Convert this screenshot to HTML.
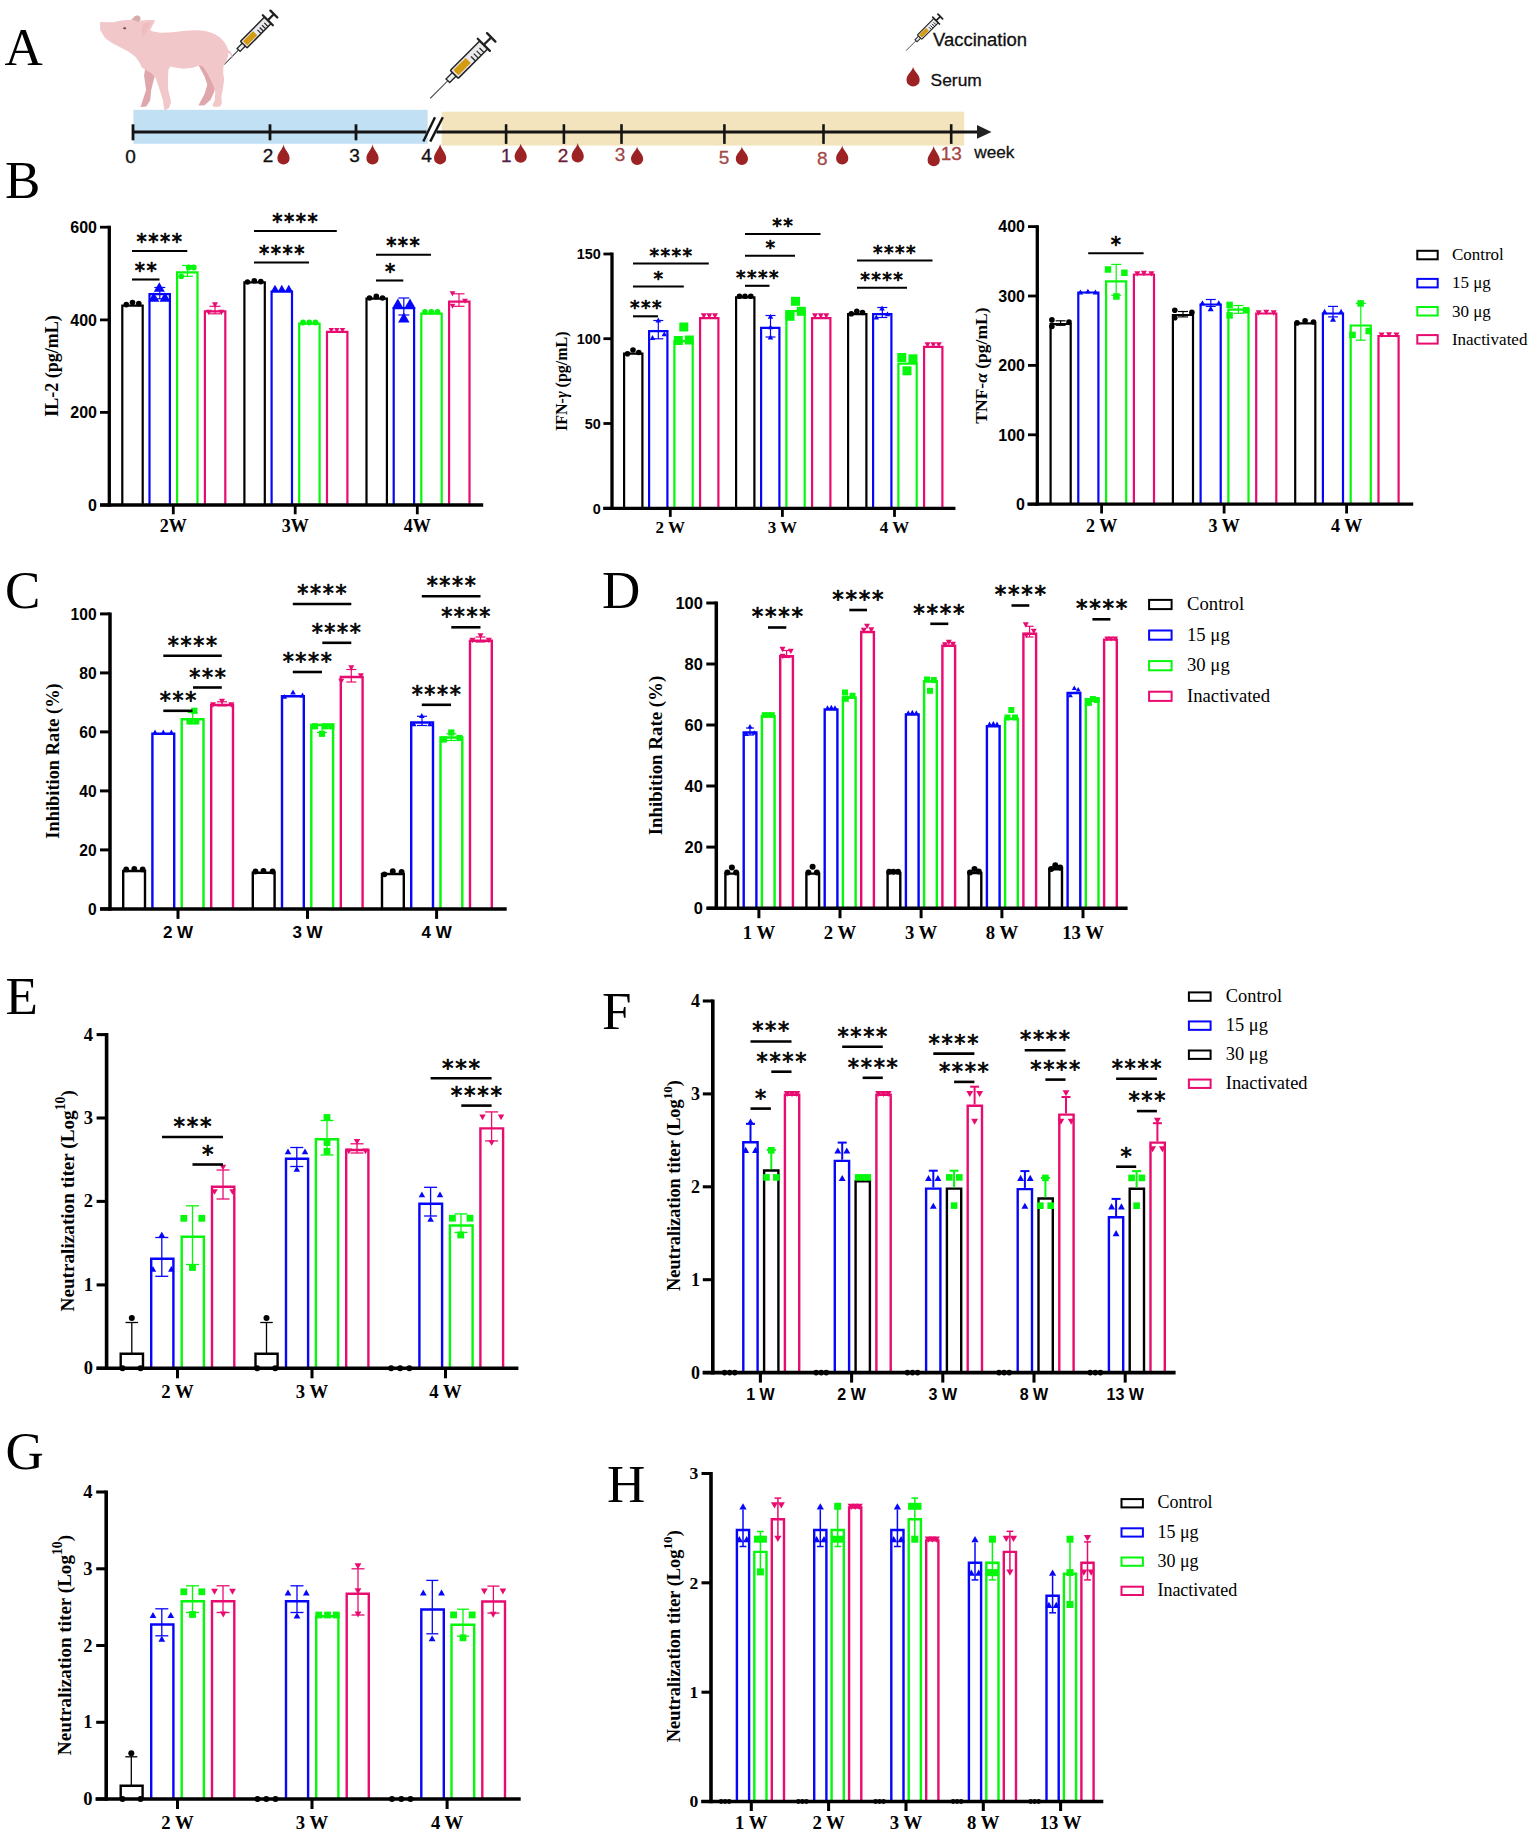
<!DOCTYPE html>
<html><head><meta charset="utf-8"><title>Figure</title>
<style>html,body{margin:0;padding:0;background:#fff}svg{display:block}</style></head>
<body><svg width="1535" height="1837" viewBox="0 0 1535 1837">
<rect width="1535" height="1837" fill="#fff"/>
<text x="4.5" y="65" font-family='"Liberation Serif", "Times New Roman", serif' font-size="53" font-weight="normal" text-anchor="start" fill="#000000" >A</text>
<text x="5" y="198" font-family='"Liberation Serif", "Times New Roman", serif' font-size="53" font-weight="normal" text-anchor="start" fill="#000000" >B</text>
<text x="5" y="608.2" font-family='"Liberation Serif", "Times New Roman", serif' font-size="53" font-weight="normal" text-anchor="start" fill="#000000" >C</text>
<text x="602" y="608.2" font-family='"Liberation Serif", "Times New Roman", serif' font-size="53" font-weight="normal" text-anchor="start" fill="#000000" >D</text>
<text x="5.5" y="1013.9" font-family='"Liberation Serif", "Times New Roman", serif' font-size="53" font-weight="normal" text-anchor="start" fill="#000000" >E</text>
<text x="602" y="1028.5" font-family='"Liberation Serif", "Times New Roman", serif' font-size="53" font-weight="normal" text-anchor="start" fill="#000000" >F</text>
<text x="5.5" y="1469" font-family='"Liberation Serif", "Times New Roman", serif' font-size="53" font-weight="normal" text-anchor="start" fill="#000000" >G</text>
<text x="607" y="1502.3" font-family='"Liberation Serif", "Times New Roman", serif' font-size="53" font-weight="normal" text-anchor="start" fill="#000000" >H</text>
<rect x="133.4" y="109.8" width="294.2" height="34" fill="#c2e0f4" stroke="none" stroke-width="0"/>
<rect x="441.7" y="111.7" width="522.5" height="33.9" fill="#f3e4bd" stroke="none" stroke-width="0"/>
<line x1="132" y1="132" x2="426.5" y2="132" stroke="#141414" stroke-width="2.8" stroke-linecap="butt"/>
<line x1="436.5" y1="132" x2="980" y2="132" stroke="#141414" stroke-width="2.8" stroke-linecap="butt"/>
<polygon points="977,125.1 991.5,131.9 977,138.7" fill="#222"/>
<line x1="423.3" y1="141.6" x2="435" y2="117.3" stroke="#141414" stroke-width="2.4" stroke-linecap="butt"/>
<line x1="430.2" y1="141.6" x2="442.8" y2="117.3" stroke="#141414" stroke-width="2.4" stroke-linecap="butt"/>
<line x1="133" y1="124.3" x2="133" y2="140.3" stroke="#141414" stroke-width="2.8" stroke-linecap="butt"/>
<line x1="270" y1="124.3" x2="270" y2="140.3" stroke="#141414" stroke-width="2.8" stroke-linecap="butt"/>
<line x1="356" y1="124.3" x2="356" y2="140.3" stroke="#141414" stroke-width="2.8" stroke-linecap="butt"/>
<line x1="506.1" y1="124.2" x2="506.1" y2="143.9" stroke="#141414" stroke-width="2.6" stroke-linecap="butt"/>
<line x1="563.9" y1="124.2" x2="563.9" y2="143.9" stroke="#141414" stroke-width="2.6" stroke-linecap="butt"/>
<line x1="621.5" y1="124.2" x2="621.5" y2="143.9" stroke="#141414" stroke-width="2.6" stroke-linecap="butt"/>
<line x1="724.4" y1="124.2" x2="724.4" y2="143.9" stroke="#141414" stroke-width="2.6" stroke-linecap="butt"/>
<line x1="823.5" y1="124.2" x2="823.5" y2="143.9" stroke="#141414" stroke-width="2.6" stroke-linecap="butt"/>
<line x1="951.2" y1="124.2" x2="951.2" y2="143.9" stroke="#141414" stroke-width="2.6" stroke-linecap="butt"/>
<text x="130.5" y="162.6" font-family='"Liberation Sans", Arial, sans-serif' font-size="19" font-weight="normal" text-anchor="middle" fill="#111" stroke="#111" stroke-width="0.35">0</text>
<text x="268" y="162.3" font-family='"Liberation Sans", Arial, sans-serif' font-size="19" font-weight="normal" text-anchor="middle" fill="#111" stroke="#111" stroke-width="0.35">2</text>
<text x="354.5" y="162.3" font-family='"Liberation Sans", Arial, sans-serif' font-size="19" font-weight="normal" text-anchor="middle" fill="#111" stroke="#111" stroke-width="0.35">3</text>
<text x="426.5" y="162.3" font-family='"Liberation Sans", Arial, sans-serif' font-size="19" font-weight="normal" text-anchor="middle" fill="#111" stroke="#111" stroke-width="0.35">4</text>
<text x="506.3" y="162" font-family='"Liberation Sans", Arial, sans-serif' font-size="19" font-weight="normal" text-anchor="middle" fill="#552048" stroke="#552048" stroke-width="0.3">1</text>
<text x="563" y="162" font-family='"Liberation Sans", Arial, sans-serif' font-size="19" font-weight="normal" text-anchor="middle" fill="#6e2234" stroke="#6e2234" stroke-width="0.3">2</text>
<text x="620" y="161.2" font-family='"Liberation Sans", Arial, sans-serif' font-size="19" font-weight="normal" text-anchor="middle" fill="#9a4848" stroke="#9a4848" stroke-width="0.3">3</text>
<text x="724" y="164.4" font-family='"Liberation Sans", Arial, sans-serif' font-size="19" font-weight="normal" text-anchor="middle" fill="#a24a48" stroke="#a24a48" stroke-width="0.3">5</text>
<text x="822.3" y="165" font-family='"Liberation Sans", Arial, sans-serif' font-size="19" font-weight="normal" text-anchor="middle" fill="#a24a48" stroke="#a24a48" stroke-width="0.3">8</text>
<text x="951.2" y="159.6" font-family='"Liberation Sans", Arial, sans-serif' font-size="19" font-weight="normal" text-anchor="middle" fill="#a64444" stroke="#a64444" stroke-width="0.3">13</text>
<text x="974.3" y="157.9" font-family='"Liberation Sans", Arial, sans-serif' font-size="17.2" font-weight="normal" text-anchor="start" fill="#111" stroke="#111" stroke-width="0.3">week</text>
<path d="M283.5 144.5 C284.3 149.5 289.6 152.91 289.6 158.4 A6.1 6.1 0 0 1 277.4 158.4 C277.4 152.91 282.7 149.5 283.5 144.5Z" fill="#9c2224"/>
<path d="M372.5 144.5 C373.3 149.5 378.6 152.91 378.6 158.4 A6.1 6.1 0 0 1 366.4 158.4 C366.4 152.91 371.7 149.5 372.5 144.5Z" fill="#9c2224"/>
<path d="M440.1 144 C440.9 149.1 446.2 152.81 446.2 158.3 A6.1 6.1 0 0 1 434 158.3 C434 152.81 439.3 149.1 440.1 144Z" fill="#9c2224"/>
<path d="M520.7 143.6 C521.5 148.4 526.8 151.21 526.8 156.7 A6.1 6.1 0 0 1 514.6 156.7 C514.6 151.21 519.9 148.4 520.7 143.6Z" fill="#9c2224"/>
<path d="M577.7 143 C578.5 147.88 583.8 150.91 583.8 156.4 A6.1 6.1 0 0 1 571.6 156.4 C571.6 150.91 576.9 147.88 577.7 143Z" fill="#9c2224"/>
<path d="M637.1 146.4 C637.9 151.07 643.2 153.51 643.2 159 A6.1 6.1 0 0 1 631 159 C631 153.51 636.3 151.07 637.1 146.4Z" fill="#9c2224"/>
<path d="M741.9 146.4 C742.7 151.05 748 153.41 748 158.9 A6.1 6.1 0 0 1 735.8 158.9 C735.8 153.41 741.1 151.05 741.9 146.4Z" fill="#9c2224"/>
<path d="M842.2 145.6 C843 150.35 848.3 153.01 848.3 158.5 A6.1 6.1 0 0 1 836.1 158.5 C836.1 153.01 841.4 150.35 842.2 145.6Z" fill="#9c2224"/>
<path d="M933.7 145.9 C934.5 151 939.8 154.71 939.8 160.2 A6.1 6.1 0 0 1 927.6 160.2 C927.6 154.71 932.9 151 933.7 145.9Z" fill="#9c2224"/>
<path d="M913.1 66.7 C913.9 71.65 919.7 73.96 919.7 79.9 A6.6 6.6 0 0 1 906.5 79.9 C906.5 73.96 912.3 71.65 913.1 66.7Z" fill="#9c2224"/>
<text x="933" y="45.9" font-family='"Liberation Sans", Arial, sans-serif' font-size="17.6" font-weight="normal" text-anchor="start" fill="#111" textLength="94" lengthAdjust="spacingAndGlyphs" stroke="#111" stroke-width="0.3">Vaccination</text>
<text x="930.6" y="85.5" font-family='"Liberation Sans", Arial, sans-serif' font-size="17.4" font-weight="normal" text-anchor="start" fill="#111" stroke="#111" stroke-width="0.3">Serum</text>
<g transform="translate(224.2,64.5) rotate(-45.4) scale(0.82)">
<line x1="0" y1="0" x2="26" y2="0" stroke="#333" stroke-width="1.22"/>
<rect x="25" y="-2.6" width="9.5" height="5.2" fill="#eee" stroke="#222" stroke-width="1.65"/>
<rect x="34" y="-5.6" width="41.5" height="11.2" rx="1" fill="#e9e9ee" stroke="#222" stroke-width="1.84"/>
<rect x="36.3" y="-3.6" width="17.5" height="7.2" rx="0.8" fill="#d49a12"/>
<line x1="58.5" y1="5.2" x2="58.5" y2="-0.8" stroke="#222" stroke-width="1.47"/>
<line x1="62.5" y1="5.2" x2="62.5" y2="-0.8" stroke="#222" stroke-width="1.47"/>
<line x1="66.5" y1="5.2" x2="66.5" y2="-0.8" stroke="#222" stroke-width="1.47"/>
<line x1="70.5" y1="5.2" x2="70.5" y2="-0.8" stroke="#222" stroke-width="1.47"/>
<line x1="75.8" y1="-8.6" x2="75.8" y2="8.6" stroke="#222" stroke-width="2.75" stroke-linecap="round"/>
<line x1="75.8" y1="0" x2="86" y2="0" stroke="#222" stroke-width="2.75"/>
<line x1="86.3" y1="-5.9" x2="86.3" y2="5.9" stroke="#222" stroke-width="2.94" stroke-linecap="round"/>
</g>
<g transform="translate(430.2,98.4) rotate(-45) scale(1)">
<line x1="0" y1="0" x2="26" y2="0" stroke="#333" stroke-width="1"/>
<rect x="25" y="-2.6" width="9.5" height="5.2" fill="#eee" stroke="#222" stroke-width="1.35"/>
<rect x="34" y="-5.6" width="41.5" height="11.2" rx="1" fill="#e9e9ee" stroke="#222" stroke-width="1.5"/>
<rect x="36.3" y="-3.6" width="17.5" height="7.2" rx="0.8" fill="#d49a12"/>
<line x1="58.5" y1="5.2" x2="58.5" y2="-0.8" stroke="#222" stroke-width="1.2"/>
<line x1="62.5" y1="5.2" x2="62.5" y2="-0.8" stroke="#222" stroke-width="1.2"/>
<line x1="66.5" y1="5.2" x2="66.5" y2="-0.8" stroke="#222" stroke-width="1.2"/>
<line x1="70.5" y1="5.2" x2="70.5" y2="-0.8" stroke="#222" stroke-width="1.2"/>
<line x1="75.8" y1="-8.6" x2="75.8" y2="8.6" stroke="#222" stroke-width="2.25" stroke-linecap="round"/>
<line x1="75.8" y1="0" x2="86" y2="0" stroke="#222" stroke-width="2.25"/>
<line x1="86.3" y1="-5.9" x2="86.3" y2="5.9" stroke="#222" stroke-width="2.4" stroke-linecap="round"/>
</g>
<g transform="translate(906.1,50.6) rotate(-45) scale(0.56)">
<line x1="0" y1="0" x2="26" y2="0" stroke="#333" stroke-width="1.43"/>
<rect x="25" y="-2.6" width="9.5" height="5.2" fill="#eee" stroke="#222" stroke-width="1.8"/>
<rect x="34" y="-5.6" width="41.5" height="11.2" rx="1" fill="#e9e9ee" stroke="#222" stroke-width="2"/>
<rect x="36.3" y="-3.6" width="17.5" height="7.2" rx="0.8" fill="#d49a12"/>
<line x1="58.5" y1="5.2" x2="58.5" y2="-0.8" stroke="#222" stroke-width="1.6"/>
<line x1="62.5" y1="5.2" x2="62.5" y2="-0.8" stroke="#222" stroke-width="1.6"/>
<line x1="66.5" y1="5.2" x2="66.5" y2="-0.8" stroke="#222" stroke-width="1.6"/>
<line x1="70.5" y1="5.2" x2="70.5" y2="-0.8" stroke="#222" stroke-width="1.6"/>
<line x1="75.8" y1="-8.6" x2="75.8" y2="8.6" stroke="#222" stroke-width="3" stroke-linecap="round"/>
<line x1="75.8" y1="0" x2="86" y2="0" stroke="#222" stroke-width="3"/>
<line x1="86.3" y1="-5.9" x2="86.3" y2="5.9" stroke="#222" stroke-width="3.2" stroke-linecap="round"/>
</g>
<polygon points="147.33,54.72 144.07,75.57 146.03,89.9 142.77,100.33 140.55,107.1 146.29,106.58 150.2,100.33 151.24,89.9 154.1,78.18 157.75,67.75" fill="#dfa6ac"/>
<polygon points="198.14,64.5 204.66,76.87 207.26,84.69 204.66,93.81 200.1,102.28 198.4,105.54 204.66,105.28 210.52,99.67 214.43,91.21 215.73,83.39 212.48,72.96 207.26,65.15" fill="#dfa6ac"/>
<polygon points="131.43,19.8 134.56,16.16 137.69,15.37 140.29,16.68 140.55,20.07 138.99,22.41 134.3,22.15" fill="#d8abac"/>
<polygon points="100.16,21.89 113.19,22.15 121.14,20.59 131.43,19.8 135.6,20.85 138.99,22.15 141.86,20.59 149.67,20.07 154.89,20.07 154.36,22.15 151.76,26.84 150.2,29.97 152.28,31.14 160.1,32.83 168.18,32.57 174.69,32.05 185.11,30.75 194.23,30.23 202.05,30.49 208.57,31.66 215.08,34.14 220.29,37.79 224.2,41.95 226.81,46.25 228.37,50.16 230.72,51.86 232.02,54.72 233.06,59.28 231.76,57.33 230.07,54.07 228.37,52.77 228.11,56.03 226.16,61.24 223.55,65.8 223.16,72.96 224.2,79.48 222.9,88.6 221.34,96.42 221.86,102.93 220.29,106.58 215.08,107.1 212.21,105.8 214.82,100.33 215.34,91.21 212.48,83.39 207.92,74.27 203.36,67.1 200.1,65.15 192.93,67.75 183.81,68.66 175.99,67.75 170.13,66.45 168.44,69.71 167.92,78.18 168.18,89.9 170.13,97.72 171.04,102.28 168.83,108.14 164.53,110.49 163.62,105.54 162.96,100.33 159.71,89.9 155.8,78.18 151.24,72.96 146.03,70.36 141.86,67.49 139.25,62.28 135.6,57.07 128.83,51.86 121.14,47.69 113.19,43.65 105.37,38.44 102.77,34.14 100.16,29.97" fill="#f2c7ca"/>
<polygon points="143.42,23.45 151.24,21.5 149.28,27.36 146.03,32.57 142.77,37.13 141.47,29.97" fill="#efbcc0"/>
<ellipse cx="124.66" cy="28.14" rx="1.6" ry="1" fill="#6a4a55"/>
<path d="M122.3 505V305.6H142.7V505" fill="#fff" stroke="#000000" stroke-width="2.2" stroke-linejoin="miter"/>
<path d="M149.5 505V294.1H169.9V505" fill="#fff" stroke="#0606fa" stroke-width="2.2" stroke-linejoin="miter"/>
<path d="M177.1 505V272.4H197.5V505" fill="#fff" stroke="#06f70c" stroke-width="2.2" stroke-linejoin="miter"/>
<path d="M204.9 505V311.4H225.3V505" fill="#fff" stroke="#e80c70" stroke-width="2.2" stroke-linejoin="miter"/>
<path d="M244.4 505V282.4H264.8V505" fill="#fff" stroke="#000000" stroke-width="2.2" stroke-linejoin="miter"/>
<path d="M271.6 505V291.6H292V505" fill="#fff" stroke="#0606fa" stroke-width="2.2" stroke-linejoin="miter"/>
<path d="M299.2 505V323.6H319.6V505" fill="#fff" stroke="#06f70c" stroke-width="2.2" stroke-linejoin="miter"/>
<path d="M327 505V331.9H347.4V505" fill="#fff" stroke="#e80c70" stroke-width="2.2" stroke-linejoin="miter"/>
<path d="M366.5 505V298.6H386.9V505" fill="#fff" stroke="#000000" stroke-width="2.2" stroke-linejoin="miter"/>
<path d="M393.7 505V308.1H414.1V505" fill="#fff" stroke="#0606fa" stroke-width="2.2" stroke-linejoin="miter"/>
<path d="M421.3 505V313.6H441.7V505" fill="#fff" stroke="#06f70c" stroke-width="2.2" stroke-linejoin="miter"/>
<path d="M449.1 505V301.6H469.5V505" fill="#fff" stroke="#e80c70" stroke-width="2.2" stroke-linejoin="miter"/>
<line x1="159.8" y1="287.5" x2="159.8" y2="298.8" stroke="#0606fa" stroke-width="1.2" stroke-linecap="butt"/>
<line x1="154.3" y1="287.5" x2="165.3" y2="287.5" stroke="#0606fa" stroke-width="1.2" stroke-linecap="butt"/>
<line x1="154.3" y1="298.8" x2="165.3" y2="298.8" stroke="#0606fa" stroke-width="1.2" stroke-linecap="butt"/>
<line x1="187.5" y1="265.5" x2="187.5" y2="276.3" stroke="#06f70c" stroke-width="1.2" stroke-linecap="butt"/>
<line x1="182" y1="265.5" x2="193" y2="265.5" stroke="#06f70c" stroke-width="1.2" stroke-linecap="butt"/>
<line x1="182" y1="276.3" x2="193" y2="276.3" stroke="#06f70c" stroke-width="1.2" stroke-linecap="butt"/>
<line x1="215" y1="306.3" x2="215" y2="313.8" stroke="#e80c70" stroke-width="1.2" stroke-linecap="butt"/>
<line x1="209.5" y1="306.3" x2="220.5" y2="306.3" stroke="#e80c70" stroke-width="1.2" stroke-linecap="butt"/>
<line x1="209.5" y1="313.8" x2="220.5" y2="313.8" stroke="#e80c70" stroke-width="1.2" stroke-linecap="butt"/>
<line x1="403.8" y1="298" x2="403.8" y2="315" stroke="#0606fa" stroke-width="1.2" stroke-linecap="butt"/>
<line x1="398.3" y1="298" x2="409.3" y2="298" stroke="#0606fa" stroke-width="1.2" stroke-linecap="butt"/>
<line x1="398.3" y1="315" x2="409.3" y2="315" stroke="#0606fa" stroke-width="1.2" stroke-linecap="butt"/>
<line x1="459" y1="293.8" x2="459" y2="306.3" stroke="#e80c70" stroke-width="1.2" stroke-linecap="butt"/>
<line x1="453.5" y1="293.8" x2="464.5" y2="293.8" stroke="#e80c70" stroke-width="1.2" stroke-linecap="butt"/>
<line x1="453.5" y1="306.3" x2="464.5" y2="306.3" stroke="#e80c70" stroke-width="1.2" stroke-linecap="butt"/>
<polygon points="153.8,291.84 164.8,291.84 159.3,282.16" fill="#0606fa"/>
<polygon points="148.3,301.84 159.3,301.84 153.8,292.16" fill="#0606fa"/>
<polygon points="159.5,301.84 170.5,301.84 165,292.16" fill="#0606fa"/>
<circle cx="181.3" cy="276.3" r="2.9" fill="#06f70c"/>
<circle cx="188.8" cy="267.5" r="2.9" fill="#06f70c"/>
<circle cx="193.8" cy="267.5" r="2.9" fill="#06f70c"/>
<polygon points="212,302.36 218,302.36 215,307.64" fill="#e80c70"/>
<polygon points="205.8,309.86 211.8,309.86 208.8,315.14" fill="#e80c70"/>
<polygon points="218.3,309.86 224.3,309.86 221.3,315.14" fill="#e80c70"/>
<polygon points="271,291.82 279,291.82 275,284.78" fill="#0606fa"/>
<polygon points="277.8,291.82 285.8,291.82 281.8,284.78" fill="#0606fa"/>
<polygon points="284.8,291.82 292.8,291.82 288.8,284.78" fill="#0606fa"/>
<circle cx="303" cy="322.5" r="2.9" fill="#06f70c"/>
<circle cx="309.3" cy="322.5" r="2.9" fill="#06f70c"/>
<circle cx="315.5" cy="322.5" r="2.9" fill="#06f70c"/>
<polygon points="328.55,327.88 334.05,327.88 331.3,332.72" fill="#e80c70"/>
<polygon points="334.05,327.88 339.55,327.88 336.8,332.72" fill="#e80c70"/>
<polygon points="339.75,327.88 345.25,327.88 342.5,332.72" fill="#e80c70"/>
<polygon points="392.05,308.56 403.55,308.56 397.8,298.44" fill="#0606fa"/>
<polygon points="404.25,308.56 415.75,308.56 410,298.44" fill="#0606fa"/>
<polygon points="398.05,322.56 409.55,322.56 403.8,312.44" fill="#0606fa"/>
<circle cx="425" cy="311.8" r="2.9" fill="#06f70c"/>
<circle cx="431.3" cy="311.8" r="2.9" fill="#06f70c"/>
<circle cx="437.5" cy="311.8" r="2.9" fill="#06f70c"/>
<polygon points="449.6,291.25 455.4,291.25 452.5,296.35" fill="#e80c70"/>
<polygon points="462.1,298.75 467.9,298.75 465,303.85" fill="#e80c70"/>
<polygon points="449.6,303.75 455.4,303.75 452.5,308.85" fill="#e80c70"/>
<line x1="132" y1="251" x2="187.3" y2="251" stroke="#000000" stroke-width="2.1" stroke-linecap="butt"/>
<text x="160.06" y="249.34" font-family='"DejaVu Sans", "Liberation Sans", sans-serif' font-size="20.45" letter-spacing="1.53" text-anchor="middle" fill="#000" stroke="#000" stroke-width="0.75" stroke-linejoin="round">****</text>
<line x1="132" y1="279.5" x2="159.5" y2="279.5" stroke="#000000" stroke-width="2.1" stroke-linecap="butt"/>
<text x="146.56" y="277.84" font-family='"DejaVu Sans", "Liberation Sans", sans-serif' font-size="20.45" letter-spacing="1.53" text-anchor="middle" fill="#000" stroke="#000" stroke-width="0.75" stroke-linejoin="round">**</text>
<line x1="254" y1="231" x2="336.8" y2="231" stroke="#000000" stroke-width="2.1" stroke-linecap="butt"/>
<text x="295.76" y="229.34" font-family='"DejaVu Sans", "Liberation Sans", sans-serif' font-size="20.45" letter-spacing="1.53" text-anchor="middle" fill="#000" stroke="#000" stroke-width="0.75" stroke-linejoin="round">****</text>
<line x1="254" y1="262.5" x2="309" y2="262.5" stroke="#000000" stroke-width="2.1" stroke-linecap="butt"/>
<text x="282.56" y="260.84" font-family='"DejaVu Sans", "Liberation Sans", sans-serif' font-size="20.45" letter-spacing="1.53" text-anchor="middle" fill="#000" stroke="#000" stroke-width="0.75" stroke-linejoin="round">****</text>
<line x1="376" y1="254.8" x2="431" y2="254.8" stroke="#000000" stroke-width="2.1" stroke-linecap="butt"/>
<text x="403.76" y="253.14" font-family='"DejaVu Sans", "Liberation Sans", sans-serif' font-size="20.45" letter-spacing="1.53" text-anchor="middle" fill="#000" stroke="#000" stroke-width="0.75" stroke-linejoin="round">***</text>
<line x1="376" y1="280.5" x2="403.3" y2="280.5" stroke="#000000" stroke-width="2.1" stroke-linecap="butt"/>
<text x="390.76" y="278.84" font-family='"DejaVu Sans", "Liberation Sans", sans-serif' font-size="20.45" letter-spacing="1.53" text-anchor="middle" fill="#000" stroke="#000" stroke-width="0.75" stroke-linejoin="round">*</text>
<line x1="109.3" y1="225.8" x2="109.3" y2="506.65" stroke="#000000" stroke-width="3.3" stroke-linecap="butt"/>
<line x1="100" y1="505" x2="483.2" y2="505" stroke="#000000" stroke-width="3.3" stroke-linecap="butt"/>
<line x1="100" y1="227.2" x2="109.3" y2="227.2" stroke="#000000" stroke-width="2.8" stroke-linecap="butt"/>
<text x="97" y="232.9" font-family='"Liberation Sans", Arial, sans-serif' font-size="16" font-weight="bold" text-anchor="end" fill="#000000" >600</text>
<line x1="100" y1="319.9" x2="109.3" y2="319.9" stroke="#000000" stroke-width="2.8" stroke-linecap="butt"/>
<text x="97" y="325.6" font-family='"Liberation Sans", Arial, sans-serif' font-size="16" font-weight="bold" text-anchor="end" fill="#000000" >400</text>
<line x1="100" y1="412.4" x2="109.3" y2="412.4" stroke="#000000" stroke-width="2.8" stroke-linecap="butt"/>
<text x="97" y="418.1" font-family='"Liberation Sans", Arial, sans-serif' font-size="16" font-weight="bold" text-anchor="end" fill="#000000" >200</text>
<line x1="100" y1="505" x2="109.3" y2="505" stroke="#000000" stroke-width="2.8" stroke-linecap="butt"/>
<text x="97" y="510.7" font-family='"Liberation Sans", Arial, sans-serif' font-size="16" font-weight="bold" text-anchor="end" fill="#000000" >0</text>
<line x1="173.3" y1="505" x2="173.3" y2="514.3" stroke="#000000" stroke-width="2.8" stroke-linecap="butt"/>
<text x="173.3" y="532.3" font-family='"Liberation Serif", "Times New Roman", serif' font-size="18" font-weight="bold" text-anchor="middle" fill="#000000" >2W</text>
<line x1="295.2" y1="505" x2="295.2" y2="514.3" stroke="#000000" stroke-width="2.8" stroke-linecap="butt"/>
<text x="295.2" y="532.3" font-family='"Liberation Serif", "Times New Roman", serif' font-size="18" font-weight="bold" text-anchor="middle" fill="#000000" >3W</text>
<line x1="417.3" y1="505" x2="417.3" y2="514.3" stroke="#000000" stroke-width="2.8" stroke-linecap="butt"/>
<text x="417.3" y="532.3" font-family='"Liberation Serif", "Times New Roman", serif' font-size="18" font-weight="bold" text-anchor="middle" fill="#000000" >4W</text>
<text transform="translate(58.3,366) rotate(-90)" font-family='"Liberation Serif", "Times New Roman", serif' font-size="18" font-weight="bold" text-anchor="middle" fill="#000">IL-2 (pg/mL)</text>
<circle cx="126.3" cy="304.6" r="2.8" fill="#000000"/>
<circle cx="132.5" cy="302.6" r="2.8" fill="#000000"/>
<circle cx="138.8" cy="303.6" r="2.8" fill="#000000"/>
<circle cx="247.5" cy="282" r="2.8" fill="#000000"/>
<circle cx="254.3" cy="280.8" r="2.8" fill="#000000"/>
<circle cx="260.8" cy="281.6" r="2.8" fill="#000000"/>
<circle cx="369.5" cy="298" r="2.8" fill="#000000"/>
<circle cx="376.3" cy="296.4" r="2.8" fill="#000000"/>
<circle cx="382.5" cy="298" r="2.8" fill="#000000"/>
<path d="M624.1 508.3V353.6H642.4V508.3" fill="#fff" stroke="#000000" stroke-width="2.2" stroke-linejoin="miter"/>
<path d="M649.1 508.3V331.1H667.4V508.3" fill="#fff" stroke="#0606fa" stroke-width="2.2" stroke-linejoin="miter"/>
<path d="M674.4 508.3V341.1H692.7V508.3" fill="#fff" stroke="#06f70c" stroke-width="2.2" stroke-linejoin="miter"/>
<path d="M700.1 508.3V318.1H718.4V508.3" fill="#fff" stroke="#e80c70" stroke-width="2.2" stroke-linejoin="miter"/>
<path d="M736.1 508.3V297.4H754.4V508.3" fill="#fff" stroke="#000000" stroke-width="2.2" stroke-linejoin="miter"/>
<path d="M761.1 508.3V327.9H779.4V508.3" fill="#fff" stroke="#0606fa" stroke-width="2.2" stroke-linejoin="miter"/>
<path d="M786.4 508.3V311.1H804.7V508.3" fill="#fff" stroke="#06f70c" stroke-width="2.2" stroke-linejoin="miter"/>
<path d="M812.1 508.3V318.1H830.4V508.3" fill="#fff" stroke="#e80c70" stroke-width="2.2" stroke-linejoin="miter"/>
<path d="M848.1 508.3V314.1H866.4V508.3" fill="#fff" stroke="#000000" stroke-width="2.2" stroke-linejoin="miter"/>
<path d="M873.1 508.3V314.1H891.4V508.3" fill="#fff" stroke="#0606fa" stroke-width="2.2" stroke-linejoin="miter"/>
<path d="M898.4 508.3V363.6H916.7V508.3" fill="#fff" stroke="#06f70c" stroke-width="2.2" stroke-linejoin="miter"/>
<path d="M924.1 508.3V346.9H942.4V508.3" fill="#fff" stroke="#e80c70" stroke-width="2.2" stroke-linejoin="miter"/>
<line x1="658.3" y1="320.5" x2="658.3" y2="338.8" stroke="#0606fa" stroke-width="1.2" stroke-linecap="butt"/>
<line x1="653.3" y1="320.5" x2="663.3" y2="320.5" stroke="#0606fa" stroke-width="1.2" stroke-linecap="butt"/>
<line x1="653.3" y1="338.8" x2="663.3" y2="338.8" stroke="#0606fa" stroke-width="1.2" stroke-linecap="butt"/>
<line x1="770.5" y1="315.5" x2="770.5" y2="337" stroke="#0606fa" stroke-width="1.2" stroke-linecap="butt"/>
<line x1="765.5" y1="315.5" x2="775.5" y2="315.5" stroke="#0606fa" stroke-width="1.2" stroke-linecap="butt"/>
<line x1="765.5" y1="337" x2="775.5" y2="337" stroke="#0606fa" stroke-width="1.2" stroke-linecap="butt"/>
<line x1="882.3" y1="307.5" x2="882.3" y2="317.5" stroke="#0606fa" stroke-width="1.2" stroke-linecap="butt"/>
<line x1="877.3" y1="307.5" x2="887.3" y2="307.5" stroke="#0606fa" stroke-width="1.2" stroke-linecap="butt"/>
<line x1="877.3" y1="317.5" x2="887.3" y2="317.5" stroke="#0606fa" stroke-width="1.2" stroke-linecap="butt"/>
<polygon points="655.55,322.42 661.05,322.42 658.3,317.58" fill="#0606fa"/>
<polygon points="649.75,339.92 655.25,339.92 652.5,335.08" fill="#0606fa"/>
<polygon points="661.55,336.22 667.05,336.22 664.3,331.38" fill="#0606fa"/>
<rect x="679.3" y="322.5" width="9" height="9" fill="#06f70c"/>
<rect x="673.8" y="336" width="9" height="9" fill="#06f70c"/>
<rect x="684.8" y="335.5" width="9" height="9" fill="#06f70c"/>
<polygon points="700.8,313.36 706.8,313.36 703.8,318.64" fill="#e80c70"/>
<polygon points="706.3,313.36 712.3,313.36 709.3,318.64" fill="#e80c70"/>
<polygon points="712,313.36 718,313.36 715,318.64" fill="#e80c70"/>
<polygon points="767.75,318.72 773.25,318.72 770.5,313.88" fill="#0606fa"/>
<polygon points="767.75,329.22 773.25,329.22 770.5,324.38" fill="#0606fa"/>
<polygon points="767.75,339.42 773.25,339.42 770.5,334.58" fill="#0606fa"/>
<rect x="791" y="296.8" width="9" height="9" fill="#06f70c"/>
<rect x="785.5" y="311.8" width="9" height="9" fill="#06f70c"/>
<rect x="796.8" y="306.8" width="9" height="9" fill="#06f70c"/>
<polygon points="812,313.36 818,313.36 815,318.64" fill="#e80c70"/>
<polygon points="817.8,313.36 823.8,313.36 820.8,318.64" fill="#e80c70"/>
<polygon points="823.3,313.36 829.3,313.36 826.3,318.64" fill="#e80c70"/>
<polygon points="879.25,310.42 884.75,310.42 882,305.58" fill="#0606fa"/>
<polygon points="873.55,319.42 879.05,319.42 876.3,314.58" fill="#0606fa"/>
<polygon points="884.75,316.22 890.25,316.22 887.5,311.38" fill="#0606fa"/>
<rect x="897.3" y="353" width="9" height="9" fill="#06f70c"/>
<rect x="908.5" y="354.3" width="9" height="9" fill="#06f70c"/>
<rect x="902.5" y="366.3" width="9" height="9" fill="#06f70c"/>
<polygon points="924.5,342.16 930.5,342.16 927.5,347.44" fill="#e80c70"/>
<polygon points="930.3,342.16 936.3,342.16 933.3,347.44" fill="#e80c70"/>
<polygon points="935.8,342.16 941.8,342.16 938.8,347.44" fill="#e80c70"/>
<line x1="633" y1="263.5" x2="708.8" y2="263.5" stroke="#000000" stroke-width="2.1" stroke-linecap="butt"/>
<text x="671.51" y="261.54" font-family='"DejaVu Sans", "Liberation Sans", sans-serif' font-size="19.14" letter-spacing="1.43" text-anchor="middle" fill="#000" stroke="#000" stroke-width="0.75" stroke-linejoin="round">****</text>
<line x1="633" y1="286.5" x2="683.8" y2="286.5" stroke="#000000" stroke-width="2.1" stroke-linecap="butt"/>
<text x="659.01" y="284.54" font-family='"DejaVu Sans", "Liberation Sans", sans-serif' font-size="19.14" letter-spacing="1.43" text-anchor="middle" fill="#000" stroke="#000" stroke-width="0.75" stroke-linejoin="round">*</text>
<line x1="633" y1="316.3" x2="658" y2="316.3" stroke="#000000" stroke-width="2.1" stroke-linecap="butt"/>
<text x="646.51" y="314.34" font-family='"DejaVu Sans", "Liberation Sans", sans-serif' font-size="19.14" letter-spacing="1.43" text-anchor="middle" fill="#000" stroke="#000" stroke-width="0.75" stroke-linejoin="round">***</text>
<line x1="745" y1="234" x2="820.5" y2="234" stroke="#000000" stroke-width="2.1" stroke-linecap="butt"/>
<text x="783.22" y="232.04" font-family='"DejaVu Sans", "Liberation Sans", sans-serif' font-size="19.14" letter-spacing="1.43" text-anchor="middle" fill="#000" stroke="#000" stroke-width="0.75" stroke-linejoin="round">**</text>
<line x1="745" y1="255.8" x2="795" y2="255.8" stroke="#000000" stroke-width="2.1" stroke-linecap="butt"/>
<text x="771.01" y="253.84" font-family='"DejaVu Sans", "Liberation Sans", sans-serif' font-size="19.14" letter-spacing="1.43" text-anchor="middle" fill="#000" stroke="#000" stroke-width="0.75" stroke-linejoin="round">*</text>
<line x1="745" y1="285.8" x2="769.5" y2="285.8" stroke="#000000" stroke-width="2.1" stroke-linecap="butt"/>
<text x="758.01" y="283.84" font-family='"DejaVu Sans", "Liberation Sans", sans-serif' font-size="19.14" letter-spacing="1.43" text-anchor="middle" fill="#000" stroke="#000" stroke-width="0.75" stroke-linejoin="round">****</text>
<line x1="857" y1="260.5" x2="932.5" y2="260.5" stroke="#000000" stroke-width="2.1" stroke-linecap="butt"/>
<text x="895.01" y="258.54" font-family='"DejaVu Sans", "Liberation Sans", sans-serif' font-size="19.14" letter-spacing="1.43" text-anchor="middle" fill="#000" stroke="#000" stroke-width="0.75" stroke-linejoin="round">****</text>
<line x1="857" y1="287.8" x2="907" y2="287.8" stroke="#000000" stroke-width="2.1" stroke-linecap="butt"/>
<text x="882.22" y="285.84" font-family='"DejaVu Sans", "Liberation Sans", sans-serif' font-size="19.14" letter-spacing="1.43" text-anchor="middle" fill="#000" stroke="#000" stroke-width="0.75" stroke-linejoin="round">****</text>
<line x1="612" y1="252.6" x2="612" y2="509.95" stroke="#000000" stroke-width="3.3" stroke-linecap="butt"/>
<line x1="603.3" y1="508.3" x2="955.4" y2="508.3" stroke="#000000" stroke-width="3.3" stroke-linecap="butt"/>
<line x1="603.4" y1="254" x2="612" y2="254" stroke="#000000" stroke-width="2.8" stroke-linecap="butt"/>
<text x="600.8" y="259.2" font-family='"Liberation Sans", Arial, sans-serif' font-size="14.4" font-weight="bold" text-anchor="end" fill="#000000" >150</text>
<line x1="603.4" y1="338.7" x2="612" y2="338.7" stroke="#000000" stroke-width="2.8" stroke-linecap="butt"/>
<text x="600.8" y="343.9" font-family='"Liberation Sans", Arial, sans-serif' font-size="14.4" font-weight="bold" text-anchor="end" fill="#000000" >100</text>
<line x1="603.4" y1="423.5" x2="612" y2="423.5" stroke="#000000" stroke-width="2.8" stroke-linecap="butt"/>
<text x="600.8" y="428.7" font-family='"Liberation Sans", Arial, sans-serif' font-size="14.4" font-weight="bold" text-anchor="end" fill="#000000" >50</text>
<line x1="603.4" y1="508.3" x2="612" y2="508.3" stroke="#000000" stroke-width="2.8" stroke-linecap="butt"/>
<text x="600.8" y="513.5" font-family='"Liberation Sans", Arial, sans-serif' font-size="14.4" font-weight="bold" text-anchor="end" fill="#000000" >0</text>
<line x1="670.3" y1="508.3" x2="670.3" y2="516.9" stroke="#000000" stroke-width="2.8" stroke-linecap="butt"/>
<text x="670.3" y="533.2" font-family='"Liberation Serif", "Times New Roman", serif' font-size="17" font-weight="bold" text-anchor="middle" fill="#000000" >2 W</text>
<line x1="782.4" y1="508.3" x2="782.4" y2="516.9" stroke="#000000" stroke-width="2.8" stroke-linecap="butt"/>
<text x="782.4" y="533.2" font-family='"Liberation Serif", "Times New Roman", serif' font-size="17" font-weight="bold" text-anchor="middle" fill="#000000" >3 W</text>
<line x1="894.5" y1="508.3" x2="894.5" y2="516.9" stroke="#000000" stroke-width="2.8" stroke-linecap="butt"/>
<text x="894.5" y="533.2" font-family='"Liberation Serif", "Times New Roman", serif' font-size="17" font-weight="bold" text-anchor="middle" fill="#000000" >4 W</text>
<text transform="translate(566.5,381.2) rotate(-90)" font-family='"Liberation Serif", "Times New Roman", serif' font-size="16" font-weight="bold" text-anchor="middle" fill="#000">IFN-<tspan font-style="italic">γ</tspan> (pg/mL)</text>
<circle cx="627.5" cy="353.8" r="2.8" fill="#000000"/>
<circle cx="633" cy="350" r="2.8" fill="#000000"/>
<circle cx="638.8" cy="352.5" r="2.8" fill="#000000"/>
<circle cx="739.5" cy="296.3" r="2.8" fill="#000000"/>
<circle cx="745" cy="296.3" r="2.8" fill="#000000"/>
<circle cx="750.8" cy="296.3" r="2.8" fill="#000000"/>
<circle cx="851.3" cy="313.8" r="2.8" fill="#000000"/>
<circle cx="856.8" cy="311.3" r="2.8" fill="#000000"/>
<circle cx="862.5" cy="312.5" r="2.8" fill="#000000"/>
<path d="M1050.6 504.2V324H1070.7V504.2" fill="#fff" stroke="#000000" stroke-width="2.2" stroke-linejoin="miter"/>
<path d="M1078.3 504.2V292.5H1098.4V504.2" fill="#fff" stroke="#0606fa" stroke-width="2.2" stroke-linejoin="miter"/>
<path d="M1106.1 504.2V281.4H1126.2V504.2" fill="#fff" stroke="#06f70c" stroke-width="2.2" stroke-linejoin="miter"/>
<path d="M1133.9 504.2V274.5H1154V504.2" fill="#fff" stroke="#e80c70" stroke-width="2.2" stroke-linejoin="miter"/>
<path d="M1172.9 504.2V315H1193V504.2" fill="#fff" stroke="#000000" stroke-width="2.2" stroke-linejoin="miter"/>
<path d="M1200.6 504.2V304.5H1220.7V504.2" fill="#fff" stroke="#0606fa" stroke-width="2.2" stroke-linejoin="miter"/>
<path d="M1228.4 504.2V309.6H1248.5V504.2" fill="#fff" stroke="#06f70c" stroke-width="2.2" stroke-linejoin="miter"/>
<path d="M1256.2 504.2V313.5H1276.3V504.2" fill="#fff" stroke="#e80c70" stroke-width="2.2" stroke-linejoin="miter"/>
<path d="M1295.2 504.2V323.4H1315.3V504.2" fill="#fff" stroke="#000000" stroke-width="2.2" stroke-linejoin="miter"/>
<path d="M1322.9 504.2V313.5H1343V504.2" fill="#fff" stroke="#0606fa" stroke-width="2.2" stroke-linejoin="miter"/>
<path d="M1350.7 504.2V325.5H1370.8V504.2" fill="#fff" stroke="#06f70c" stroke-width="2.2" stroke-linejoin="miter"/>
<path d="M1378.5 504.2V336H1398.6V504.2" fill="#fff" stroke="#e80c70" stroke-width="2.2" stroke-linejoin="miter"/>
<line x1="1060.6" y1="320.8" x2="1060.6" y2="325.3" stroke="#000000" stroke-width="1.2" stroke-linecap="butt"/>
<line x1="1055.6" y1="320.8" x2="1065.6" y2="320.8" stroke="#000000" stroke-width="1.2" stroke-linecap="butt"/>
<line x1="1055.6" y1="325.3" x2="1065.6" y2="325.3" stroke="#000000" stroke-width="1.2" stroke-linecap="butt"/>
<line x1="1116.2" y1="264.4" x2="1116.2" y2="295.3" stroke="#06f70c" stroke-width="1.2" stroke-linecap="butt"/>
<line x1="1111.2" y1="264.4" x2="1121.2" y2="264.4" stroke="#06f70c" stroke-width="1.2" stroke-linecap="butt"/>
<line x1="1111.2" y1="295.3" x2="1121.2" y2="295.3" stroke="#06f70c" stroke-width="1.2" stroke-linecap="butt"/>
<line x1="1183" y1="311.5" x2="1183" y2="316.9" stroke="#000000" stroke-width="1.2" stroke-linecap="butt"/>
<line x1="1178" y1="311.5" x2="1188" y2="311.5" stroke="#000000" stroke-width="1.2" stroke-linecap="butt"/>
<line x1="1178" y1="316.9" x2="1188" y2="316.9" stroke="#000000" stroke-width="1.2" stroke-linecap="butt"/>
<line x1="1210.8" y1="299.5" x2="1210.8" y2="306.4" stroke="#0606fa" stroke-width="1.2" stroke-linecap="butt"/>
<line x1="1205.8" y1="299.5" x2="1215.8" y2="299.5" stroke="#0606fa" stroke-width="1.2" stroke-linecap="butt"/>
<line x1="1205.8" y1="306.4" x2="1215.8" y2="306.4" stroke="#0606fa" stroke-width="1.2" stroke-linecap="butt"/>
<line x1="1238.4" y1="305.5" x2="1238.4" y2="313.3" stroke="#06f70c" stroke-width="1.2" stroke-linecap="butt"/>
<line x1="1233.4" y1="305.5" x2="1243.4" y2="305.5" stroke="#06f70c" stroke-width="1.2" stroke-linecap="butt"/>
<line x1="1233.4" y1="313.3" x2="1243.4" y2="313.3" stroke="#06f70c" stroke-width="1.2" stroke-linecap="butt"/>
<line x1="1333" y1="306.4" x2="1333" y2="316.9" stroke="#0606fa" stroke-width="1.2" stroke-linecap="butt"/>
<line x1="1328" y1="306.4" x2="1338" y2="306.4" stroke="#0606fa" stroke-width="1.2" stroke-linecap="butt"/>
<line x1="1328" y1="316.9" x2="1338" y2="316.9" stroke="#0606fa" stroke-width="1.2" stroke-linecap="butt"/>
<line x1="1360.8" y1="303.4" x2="1360.8" y2="340.2" stroke="#06f70c" stroke-width="1.2" stroke-linecap="butt"/>
<line x1="1355.8" y1="303.4" x2="1365.8" y2="303.4" stroke="#06f70c" stroke-width="1.2" stroke-linecap="butt"/>
<line x1="1355.8" y1="340.2" x2="1365.8" y2="340.2" stroke="#06f70c" stroke-width="1.2" stroke-linecap="butt"/>
<polygon points="1077.65,294.42 1083.15,294.42 1080.4,289.58" fill="#0606fa"/>
<polygon points="1085.15,293.62 1090.65,293.62 1087.9,288.78" fill="#0606fa"/>
<polygon points="1092.65,294.42 1098.15,294.42 1095.4,289.58" fill="#0606fa"/>
<rect x="1104.75" y="266.25" width="6.5" height="6.5" fill="#06f70c"/>
<rect x="1121.15" y="269.55" width="6.5" height="6.5" fill="#06f70c"/>
<rect x="1113.15" y="293.25" width="6.5" height="6.5" fill="#06f70c"/>
<polygon points="1134.3,271.16 1140.3,271.16 1137.3,276.44" fill="#e80c70"/>
<polygon points="1140.9,270.76 1146.9,270.76 1143.9,276.04" fill="#e80c70"/>
<polygon points="1148.4,271.16 1154.4,271.16 1151.4,276.44" fill="#e80c70"/>
<polygon points="1199.4,305.44 1205.4,305.44 1202.4,300.16" fill="#0606fa"/>
<polygon points="1215.8,305.44 1221.8,305.44 1218.8,300.16" fill="#0606fa"/>
<polygon points="1207.7,311.14 1213.7,311.14 1210.7,305.86" fill="#0606fa"/>
<rect x="1226.35" y="301.65" width="6.5" height="6.5" fill="#06f70c"/>
<rect x="1242.85" y="307.05" width="6.5" height="6.5" fill="#06f70c"/>
<rect x="1226.35" y="312.15" width="6.5" height="6.5" fill="#06f70c"/>
<polygon points="1255.7,310.36 1261.7,310.36 1258.7,315.64" fill="#e80c70"/>
<polygon points="1263.2,309.76 1269.2,309.76 1266.2,315.04" fill="#e80c70"/>
<polygon points="1270.7,310.36 1276.7,310.36 1273.7,315.64" fill="#e80c70"/>
<polygon points="1321.6,314.14 1327.6,314.14 1324.6,308.86" fill="#0606fa"/>
<polygon points="1338.1,314.14 1344.1,314.14 1341.1,308.86" fill="#0606fa"/>
<polygon points="1330,321.64 1336,321.64 1333,316.36" fill="#0606fa"/>
<rect x="1357.35" y="300.15" width="6.5" height="6.5" fill="#06f70c"/>
<rect x="1349.25" y="331.65" width="6.5" height="6.5" fill="#06f70c"/>
<rect x="1365.45" y="327.75" width="6.5" height="6.5" fill="#06f70c"/>
<polygon points="1378.6,332.56 1384.6,332.56 1381.6,337.84" fill="#e80c70"/>
<polygon points="1386,332.16 1392,332.16 1389,337.44" fill="#e80c70"/>
<polygon points="1393.5,332.56 1399.5,332.56 1396.5,337.84" fill="#e80c70"/>
<line x1="1088.2" y1="253.3" x2="1143.6" y2="253.3" stroke="#000000" stroke-width="2.1" stroke-linecap="butt"/>
<text x="1116.56" y="251.64" font-family='"DejaVu Sans", "Liberation Sans", sans-serif' font-size="20.45" letter-spacing="1.53" text-anchor="middle" fill="#000" stroke="#000" stroke-width="0.75" stroke-linejoin="round">*</text>
<rect x="1417.3" y="250.8" width="20.4" height="8.5" fill="#fff" stroke="#000000" stroke-width="2"/>
<text x="1451.9" y="260.3" font-family='"Liberation Serif", "Times New Roman", serif' font-size="17" font-weight="normal" text-anchor="start" fill="#000000" >Control</text>
<rect x="1417.3" y="278.9" width="20.4" height="8.5" fill="#fff" stroke="#0606fa" stroke-width="2"/>
<text x="1451.9" y="288.4" font-family='"Liberation Serif", "Times New Roman", serif' font-size="17" font-weight="normal" text-anchor="start" fill="#000000" >15 μg</text>
<rect x="1417.3" y="307" width="20.4" height="8.5" fill="#fff" stroke="#06f70c" stroke-width="2"/>
<text x="1451.9" y="316.5" font-family='"Liberation Serif", "Times New Roman", serif' font-size="17" font-weight="normal" text-anchor="start" fill="#000000" >30 μg</text>
<rect x="1417.3" y="335.1" width="20.4" height="8.5" fill="#fff" stroke="#e80c70" stroke-width="2"/>
<text x="1451.9" y="344.6" font-family='"Liberation Serif", "Times New Roman", serif' font-size="17" font-weight="normal" text-anchor="start" fill="#000000" >Inactivated</text>
<line x1="1037.3" y1="225.2" x2="1037.3" y2="505.85" stroke="#000000" stroke-width="3.3" stroke-linecap="butt"/>
<line x1="1027.4" y1="504.2" x2="1413.2" y2="504.2" stroke="#000000" stroke-width="3.3" stroke-linecap="butt"/>
<line x1="1028" y1="226.6" x2="1037.3" y2="226.6" stroke="#000000" stroke-width="2.8" stroke-linecap="butt"/>
<text x="1025" y="232.3" font-family='"Liberation Sans", Arial, sans-serif' font-size="16" font-weight="bold" text-anchor="end" fill="#000000" >400</text>
<line x1="1028" y1="296" x2="1037.3" y2="296" stroke="#000000" stroke-width="2.8" stroke-linecap="butt"/>
<text x="1025" y="301.7" font-family='"Liberation Sans", Arial, sans-serif' font-size="16" font-weight="bold" text-anchor="end" fill="#000000" >300</text>
<line x1="1028" y1="365.4" x2="1037.3" y2="365.4" stroke="#000000" stroke-width="2.8" stroke-linecap="butt"/>
<text x="1025" y="371.1" font-family='"Liberation Sans", Arial, sans-serif' font-size="16" font-weight="bold" text-anchor="end" fill="#000000" >200</text>
<line x1="1028" y1="434.8" x2="1037.3" y2="434.8" stroke="#000000" stroke-width="2.8" stroke-linecap="butt"/>
<text x="1025" y="440.5" font-family='"Liberation Sans", Arial, sans-serif' font-size="16" font-weight="bold" text-anchor="end" fill="#000000" >100</text>
<line x1="1028" y1="504.2" x2="1037.3" y2="504.2" stroke="#000000" stroke-width="2.8" stroke-linecap="butt"/>
<text x="1025" y="509.9" font-family='"Liberation Sans", Arial, sans-serif' font-size="16" font-weight="bold" text-anchor="end" fill="#000000" >0</text>
<line x1="1101.6" y1="504.2" x2="1101.6" y2="513.5" stroke="#000000" stroke-width="2.8" stroke-linecap="butt"/>
<text x="1101.6" y="532.4" font-family='"Liberation Serif", "Times New Roman", serif' font-size="18" font-weight="bold" text-anchor="middle" fill="#000000" >2 W</text>
<line x1="1224.1" y1="504.2" x2="1224.1" y2="513.5" stroke="#000000" stroke-width="2.8" stroke-linecap="butt"/>
<text x="1224.1" y="532.4" font-family='"Liberation Serif", "Times New Roman", serif' font-size="18" font-weight="bold" text-anchor="middle" fill="#000000" >3 W</text>
<line x1="1346.6" y1="504.2" x2="1346.6" y2="513.5" stroke="#000000" stroke-width="2.8" stroke-linecap="butt"/>
<text x="1346.6" y="532.4" font-family='"Liberation Serif", "Times New Roman", serif' font-size="18" font-weight="bold" text-anchor="middle" fill="#000000" >4 W</text>
<text transform="translate(986.6,365.6) rotate(-90)" font-family='"Liberation Serif", "Times New Roman", serif' font-size="17.5" font-weight="bold" text-anchor="middle" fill="#000">TNF-<tspan font-style="italic">α</tspan> (pg/mL)</text>
<circle cx="1051.9" cy="319.9" r="2.8" fill="#000000"/>
<circle cx="1069" cy="322" r="2.8" fill="#000000"/>
<circle cx="1051.9" cy="326.5" r="2.8" fill="#000000"/>
<circle cx="1174.8" cy="310.3" r="2.8" fill="#000000"/>
<circle cx="1191.9" cy="312.4" r="2.8" fill="#000000"/>
<circle cx="1174.8" cy="317.8" r="2.8" fill="#000000"/>
<circle cx="1297" cy="322.9" r="2.8" fill="#000000"/>
<circle cx="1305.1" cy="320.8" r="2.8" fill="#000000"/>
<circle cx="1313.5" cy="322" r="2.8" fill="#000000"/>
<path d="M123.2 908.9V871H145V908.9" fill="#fff" stroke="#000000" stroke-width="2.4" stroke-linejoin="miter"/>
<path d="M152.4 908.9V733.7H174.2V908.9" fill="#fff" stroke="#0606fa" stroke-width="2.4" stroke-linejoin="miter"/>
<path d="M181.7 908.9V719.2H203.5V908.9" fill="#fff" stroke="#06f70c" stroke-width="2.4" stroke-linejoin="miter"/>
<path d="M211.2 908.9V705H233V908.9" fill="#fff" stroke="#e80c70" stroke-width="2.4" stroke-linejoin="miter"/>
<path d="M252.8 908.9V872.8H274.6V908.9" fill="#fff" stroke="#000000" stroke-width="2.4" stroke-linejoin="miter"/>
<path d="M282 908.9V696.2H303.8V908.9" fill="#fff" stroke="#0606fa" stroke-width="2.4" stroke-linejoin="miter"/>
<path d="M311.3 908.9V725H333.1V908.9" fill="#fff" stroke="#06f70c" stroke-width="2.4" stroke-linejoin="miter"/>
<path d="M340.8 908.9V677H362.6V908.9" fill="#fff" stroke="#e80c70" stroke-width="2.4" stroke-linejoin="miter"/>
<path d="M382 908.9V874H403.8V908.9" fill="#fff" stroke="#000000" stroke-width="2.4" stroke-linejoin="miter"/>
<path d="M411.2 908.9V722.5H433V908.9" fill="#fff" stroke="#0606fa" stroke-width="2.4" stroke-linejoin="miter"/>
<path d="M440.5 908.9V737.5H462.3V908.9" fill="#fff" stroke="#06f70c" stroke-width="2.4" stroke-linejoin="miter"/>
<path d="M470 908.9V640.7H491.8V908.9" fill="#fff" stroke="#e80c70" stroke-width="2.4" stroke-linejoin="miter"/>
<line x1="192.7" y1="712.5" x2="192.7" y2="723.8" stroke="#06f70c" stroke-width="1.2" stroke-linecap="butt"/>
<line x1="187.7" y1="712.5" x2="197.7" y2="712.5" stroke="#06f70c" stroke-width="1.2" stroke-linecap="butt"/>
<line x1="187.7" y1="723.8" x2="197.7" y2="723.8" stroke="#06f70c" stroke-width="1.2" stroke-linecap="butt"/>
<line x1="222" y1="701.8" x2="222" y2="705.8" stroke="#e80c70" stroke-width="1.2" stroke-linecap="butt"/>
<line x1="217" y1="701.8" x2="227" y2="701.8" stroke="#e80c70" stroke-width="1.2" stroke-linecap="butt"/>
<line x1="217" y1="705.8" x2="227" y2="705.8" stroke="#e80c70" stroke-width="1.2" stroke-linecap="butt"/>
<line x1="322" y1="725" x2="322" y2="732.5" stroke="#06f70c" stroke-width="1.2" stroke-linecap="butt"/>
<line x1="317" y1="725" x2="327" y2="725" stroke="#06f70c" stroke-width="1.2" stroke-linecap="butt"/>
<line x1="317" y1="732.5" x2="327" y2="732.5" stroke="#06f70c" stroke-width="1.2" stroke-linecap="butt"/>
<line x1="351.3" y1="669.5" x2="351.3" y2="682" stroke="#e80c70" stroke-width="1.2" stroke-linecap="butt"/>
<line x1="346.3" y1="669.5" x2="356.3" y2="669.5" stroke="#e80c70" stroke-width="1.2" stroke-linecap="butt"/>
<line x1="346.3" y1="682" x2="356.3" y2="682" stroke="#e80c70" stroke-width="1.2" stroke-linecap="butt"/>
<line x1="422" y1="716.3" x2="422" y2="725.5" stroke="#0606fa" stroke-width="1.2" stroke-linecap="butt"/>
<line x1="417" y1="716.3" x2="427" y2="716.3" stroke="#0606fa" stroke-width="1.2" stroke-linecap="butt"/>
<line x1="417" y1="725.5" x2="427" y2="725.5" stroke="#0606fa" stroke-width="1.2" stroke-linecap="butt"/>
<line x1="451.3" y1="733.8" x2="451.3" y2="740.5" stroke="#06f70c" stroke-width="1.2" stroke-linecap="butt"/>
<line x1="446.3" y1="733.8" x2="456.3" y2="733.8" stroke="#06f70c" stroke-width="1.2" stroke-linecap="butt"/>
<line x1="446.3" y1="740.5" x2="456.3" y2="740.5" stroke="#06f70c" stroke-width="1.2" stroke-linecap="butt"/>
<line x1="480.5" y1="637" x2="480.5" y2="642" stroke="#e80c70" stroke-width="1.2" stroke-linecap="butt"/>
<line x1="475.5" y1="637" x2="485.5" y2="637" stroke="#e80c70" stroke-width="1.2" stroke-linecap="butt"/>
<line x1="475.5" y1="642" x2="485.5" y2="642" stroke="#e80c70" stroke-width="1.2" stroke-linecap="butt"/>
<polygon points="152.25,734.42 157.75,734.42 155,729.58" fill="#0606fa"/>
<polygon points="160.55,734.42 166.05,734.42 163.3,729.58" fill="#0606fa"/>
<polygon points="168.55,734.42 174.05,734.42 171.3,729.58" fill="#0606fa"/>
<rect x="191.2" y="707.7" width="6.2" height="6.2" fill="#06f70c"/>
<rect x="186.4" y="718.2" width="6.2" height="6.2" fill="#06f70c"/>
<rect x="193.2" y="718.2" width="6.2" height="6.2" fill="#06f70c"/>
<polygon points="219,698.66 225,698.66 222,703.94" fill="#e80c70"/>
<polygon points="210,702.36 216,702.36 213,707.64" fill="#e80c70"/>
<polygon points="228.3,702.36 234.3,702.36 231.3,707.64" fill="#e80c70"/>
<polygon points="290.25,694.42 295.75,694.42 293,689.58" fill="#0606fa"/>
<polygon points="281.55,698.72 287.05,698.72 284.3,693.88" fill="#0606fa"/>
<polygon points="299.75,697.42 305.25,697.42 302.5,692.58" fill="#0606fa"/>
<rect x="311.9" y="723.2" width="6.2" height="6.2" fill="#06f70c"/>
<rect x="321.9" y="723.2" width="6.2" height="6.2" fill="#06f70c"/>
<rect x="328.2" y="723.2" width="6.2" height="6.2" fill="#06f70c"/>
<rect x="318.9" y="730.7" width="6.2" height="6.2" fill="#06f70c"/>
<polygon points="348.3,665.36 354.3,665.36 351.3,670.64" fill="#e80c70"/>
<polygon points="338.3,678.66 344.3,678.66 341.3,683.94" fill="#e80c70"/>
<polygon points="357.8,673.16 363.8,673.16 360.8,678.44" fill="#e80c70"/>
<polygon points="419.05,717.92 424.55,717.92 421.8,713.08" fill="#0606fa"/>
<polygon points="411.05,726.22 416.55,726.22 413.8,721.38" fill="#0606fa"/>
<polygon points="427.25,726.22 432.75,726.22 430,721.38" fill="#0606fa"/>
<rect x="448.2" y="729.4" width="6.2" height="6.2" fill="#06f70c"/>
<rect x="440.7" y="736.4" width="6.2" height="6.2" fill="#06f70c"/>
<rect x="456.4" y="734.9" width="6.2" height="6.2" fill="#06f70c"/>
<polygon points="477.5,633.16 483.5,633.16 480.5,638.44" fill="#e80c70"/>
<polygon points="469.5,637.86 475.5,637.86 472.5,643.14" fill="#e80c70"/>
<polygon points="485.8,637.86 491.8,637.86 488.8,643.14" fill="#e80c70"/>
<line x1="163.3" y1="655.8" x2="221.8" y2="655.8" stroke="#000000" stroke-width="2.6" stroke-linecap="butt"/>
<text x="193.33" y="652.84" font-family='"DejaVu Sans", "Liberation Sans", sans-serif' font-size="22.18" letter-spacing="1.66" text-anchor="middle" fill="#000" stroke="#000" stroke-width="0.75" stroke-linejoin="round">****</text>
<line x1="193" y1="687.5" x2="221.8" y2="687.5" stroke="#000000" stroke-width="2.6" stroke-linecap="butt"/>
<text x="208.33" y="684.54" font-family='"DejaVu Sans", "Liberation Sans", sans-serif' font-size="22.18" letter-spacing="1.66" text-anchor="middle" fill="#000" stroke="#000" stroke-width="0.75" stroke-linejoin="round">***</text>
<line x1="163.3" y1="710.8" x2="192.5" y2="710.8" stroke="#000000" stroke-width="2.6" stroke-linecap="butt"/>
<text x="178.83" y="707.84" font-family='"DejaVu Sans", "Liberation Sans", sans-serif' font-size="22.18" letter-spacing="1.66" text-anchor="middle" fill="#000" stroke="#000" stroke-width="0.75" stroke-linejoin="round">***</text>
<line x1="292.8" y1="604" x2="351.3" y2="604" stroke="#000000" stroke-width="2.6" stroke-linecap="butt"/>
<text x="322.83" y="601.04" font-family='"DejaVu Sans", "Liberation Sans", sans-serif' font-size="22.18" letter-spacing="1.66" text-anchor="middle" fill="#000" stroke="#000" stroke-width="0.75" stroke-linejoin="round">****</text>
<line x1="322.3" y1="642.8" x2="351.3" y2="642.8" stroke="#000000" stroke-width="2.6" stroke-linecap="butt"/>
<text x="337.13" y="639.84" font-family='"DejaVu Sans", "Liberation Sans", sans-serif' font-size="22.18" letter-spacing="1.66" text-anchor="middle" fill="#000" stroke="#000" stroke-width="0.75" stroke-linejoin="round">****</text>
<line x1="292.8" y1="672" x2="322" y2="672" stroke="#000000" stroke-width="2.6" stroke-linecap="butt"/>
<text x="308.13" y="669.04" font-family='"DejaVu Sans", "Liberation Sans", sans-serif' font-size="22.18" letter-spacing="1.66" text-anchor="middle" fill="#000" stroke="#000" stroke-width="0.75" stroke-linejoin="round">****</text>
<line x1="421.8" y1="596.3" x2="480.5" y2="596.3" stroke="#000000" stroke-width="2.6" stroke-linecap="butt"/>
<text x="452.13" y="593.34" font-family='"DejaVu Sans", "Liberation Sans", sans-serif' font-size="22.18" letter-spacing="1.66" text-anchor="middle" fill="#000" stroke="#000" stroke-width="0.75" stroke-linejoin="round">****</text>
<line x1="451.3" y1="627.3" x2="480.5" y2="627.3" stroke="#000000" stroke-width="2.6" stroke-linecap="butt"/>
<text x="466.63" y="624.34" font-family='"DejaVu Sans", "Liberation Sans", sans-serif' font-size="22.18" letter-spacing="1.66" text-anchor="middle" fill="#000" stroke="#000" stroke-width="0.75" stroke-linejoin="round">****</text>
<line x1="421.8" y1="704.8" x2="451" y2="704.8" stroke="#000000" stroke-width="2.6" stroke-linecap="butt"/>
<text x="437.13" y="701.84" font-family='"DejaVu Sans", "Liberation Sans", sans-serif' font-size="22.18" letter-spacing="1.66" text-anchor="middle" fill="#000" stroke="#000" stroke-width="0.75" stroke-linejoin="round">****</text>
<line x1="110" y1="612.41" x2="110" y2="910.65" stroke="#000000" stroke-width="3.5" stroke-linecap="butt"/>
<line x1="100" y1="908.9" x2="506.7" y2="908.9" stroke="#000000" stroke-width="3.5" stroke-linecap="butt"/>
<line x1="100" y1="613.9" x2="110" y2="613.9" stroke="#000000" stroke-width="2.98" stroke-linecap="butt"/>
<text x="96.6" y="619.6" font-family='"Liberation Sans", Arial, sans-serif' font-size="15.6" font-weight="bold" text-anchor="end" fill="#000000" >100</text>
<line x1="100" y1="672.9" x2="110" y2="672.9" stroke="#000000" stroke-width="2.98" stroke-linecap="butt"/>
<text x="96.6" y="678.6" font-family='"Liberation Sans", Arial, sans-serif' font-size="15.6" font-weight="bold" text-anchor="end" fill="#000000" >80</text>
<line x1="100" y1="731.9" x2="110" y2="731.9" stroke="#000000" stroke-width="2.98" stroke-linecap="butt"/>
<text x="96.6" y="737.6" font-family='"Liberation Sans", Arial, sans-serif' font-size="15.6" font-weight="bold" text-anchor="end" fill="#000000" >60</text>
<line x1="100" y1="790.9" x2="110" y2="790.9" stroke="#000000" stroke-width="2.98" stroke-linecap="butt"/>
<text x="96.6" y="796.6" font-family='"Liberation Sans", Arial, sans-serif' font-size="15.6" font-weight="bold" text-anchor="end" fill="#000000" >40</text>
<line x1="100" y1="849.9" x2="110" y2="849.9" stroke="#000000" stroke-width="2.98" stroke-linecap="butt"/>
<text x="96.6" y="855.6" font-family='"Liberation Sans", Arial, sans-serif' font-size="15.6" font-weight="bold" text-anchor="end" fill="#000000" >20</text>
<line x1="100" y1="908.9" x2="110" y2="908.9" stroke="#000000" stroke-width="2.98" stroke-linecap="butt"/>
<text x="96.6" y="914.6" font-family='"Liberation Sans", Arial, sans-serif' font-size="15.6" font-weight="bold" text-anchor="end" fill="#000000" >0</text>
<line x1="178" y1="908.9" x2="178" y2="918.9" stroke="#000000" stroke-width="2.98" stroke-linecap="butt"/>
<text x="178" y="938" font-family='"Liberation Sans", Arial, sans-serif' font-size="17" font-weight="bold" text-anchor="middle" fill="#000000" >2 W</text>
<line x1="307.5" y1="908.9" x2="307.5" y2="918.9" stroke="#000000" stroke-width="2.98" stroke-linecap="butt"/>
<text x="307.5" y="938" font-family='"Liberation Sans", Arial, sans-serif' font-size="17" font-weight="bold" text-anchor="middle" fill="#000000" >3 W</text>
<line x1="436.6" y1="908.9" x2="436.6" y2="918.9" stroke="#000000" stroke-width="2.98" stroke-linecap="butt"/>
<text x="436.6" y="938" font-family='"Liberation Sans", Arial, sans-serif' font-size="17" font-weight="bold" text-anchor="middle" fill="#000000" >4 W</text>
<text transform="translate(58.5,761) rotate(-90)" font-family='"Liberation Serif", "Times New Roman", serif' font-size="18.4" font-weight="bold" text-anchor="middle" fill="#000">Inhibition Rate (%)</text>
<circle cx="126.2" cy="869.4" r="2.9" fill="#000000"/>
<circle cx="134.3" cy="868.8" r="2.9" fill="#000000"/>
<circle cx="142.7" cy="869.4" r="2.9" fill="#000000"/>
<circle cx="255.5" cy="871.5" r="2.9" fill="#000000"/>
<circle cx="263.5" cy="870.9" r="2.9" fill="#000000"/>
<circle cx="272.6" cy="871.5" r="2.9" fill="#000000"/>
<circle cx="384.4" cy="874.3" r="2.9" fill="#000000"/>
<circle cx="392.8" cy="871.2" r="2.9" fill="#000000"/>
<circle cx="401.6" cy="871.8" r="2.9" fill="#000000"/>
<path d="M725.4 908.2V873.6H738.1V908.2" fill="#fff" stroke="#000000" stroke-width="2.4" stroke-linejoin="miter"/>
<path d="M743.7 908.2V732.5H756.4V908.2" fill="#fff" stroke="#0606fa" stroke-width="2.4" stroke-linejoin="miter"/>
<path d="M761.9 908.2V716.2H774.6V908.2" fill="#fff" stroke="#06f70c" stroke-width="2.4" stroke-linejoin="miter"/>
<path d="M780.2 908.2V656.2H792.9V908.2" fill="#fff" stroke="#e80c70" stroke-width="2.4" stroke-linejoin="miter"/>
<path d="M806.4 908.2V873.6H819.1V908.2" fill="#fff" stroke="#000000" stroke-width="2.4" stroke-linejoin="miter"/>
<path d="M824.7 908.2V709.5H837.4V908.2" fill="#fff" stroke="#0606fa" stroke-width="2.4" stroke-linejoin="miter"/>
<path d="M842.9 908.2V697.5H855.6V908.2" fill="#fff" stroke="#06f70c" stroke-width="2.4" stroke-linejoin="miter"/>
<path d="M861.2 908.2V632H873.9V908.2" fill="#fff" stroke="#e80c70" stroke-width="2.4" stroke-linejoin="miter"/>
<path d="M887.6 908.2V873H900.3V908.2" fill="#fff" stroke="#000000" stroke-width="2.4" stroke-linejoin="miter"/>
<path d="M905.9 908.2V714.5H918.6V908.2" fill="#fff" stroke="#0606fa" stroke-width="2.4" stroke-linejoin="miter"/>
<path d="M924.1 908.2V681.2H936.8V908.2" fill="#fff" stroke="#06f70c" stroke-width="2.4" stroke-linejoin="miter"/>
<path d="M942.4 908.2V645.7H955.1V908.2" fill="#fff" stroke="#e80c70" stroke-width="2.4" stroke-linejoin="miter"/>
<path d="M968.6 908.2V873H981.3V908.2" fill="#fff" stroke="#000000" stroke-width="2.4" stroke-linejoin="miter"/>
<path d="M986.9 908.2V726.2H999.6V908.2" fill="#fff" stroke="#0606fa" stroke-width="2.4" stroke-linejoin="miter"/>
<path d="M1005.1 908.2V718.7H1017.8V908.2" fill="#fff" stroke="#06f70c" stroke-width="2.4" stroke-linejoin="miter"/>
<path d="M1023.4 908.2V633.7H1036.1V908.2" fill="#fff" stroke="#e80c70" stroke-width="2.4" stroke-linejoin="miter"/>
<path d="M1049.3 908.2V869.3H1062V908.2" fill="#fff" stroke="#000000" stroke-width="2.4" stroke-linejoin="miter"/>
<path d="M1067.6 908.2V693H1080.3V908.2" fill="#fff" stroke="#0606fa" stroke-width="2.4" stroke-linejoin="miter"/>
<path d="M1085.8 908.2V699.2H1098.5V908.2" fill="#fff" stroke="#06f70c" stroke-width="2.4" stroke-linejoin="miter"/>
<path d="M1104.1 908.2V639.6H1116.8V908.2" fill="#fff" stroke="#e80c70" stroke-width="2.4" stroke-linejoin="miter"/>
<line x1="750" y1="728" x2="750" y2="735" stroke="#0606fa" stroke-width="1.2" stroke-linecap="butt"/>
<line x1="746" y1="728" x2="754" y2="728" stroke="#0606fa" stroke-width="1.2" stroke-linecap="butt"/>
<line x1="746" y1="735" x2="754" y2="735" stroke="#0606fa" stroke-width="1.2" stroke-linecap="butt"/>
<line x1="786.6" y1="650.5" x2="786.6" y2="657.5" stroke="#e80c70" stroke-width="1.2" stroke-linecap="butt"/>
<line x1="782.6" y1="650.5" x2="790.6" y2="650.5" stroke="#e80c70" stroke-width="1.2" stroke-linecap="butt"/>
<line x1="782.6" y1="657.5" x2="790.6" y2="657.5" stroke="#e80c70" stroke-width="1.2" stroke-linecap="butt"/>
<line x1="1029.6" y1="626.3" x2="1029.6" y2="637" stroke="#e80c70" stroke-width="1.2" stroke-linecap="butt"/>
<line x1="1025.6" y1="626.3" x2="1033.6" y2="626.3" stroke="#e80c70" stroke-width="1.2" stroke-linecap="butt"/>
<line x1="1025.6" y1="637" x2="1033.6" y2="637" stroke="#e80c70" stroke-width="1.2" stroke-linecap="butt"/>
<polygon points="747.5,728.5 752.5,728.5 750,724.1" fill="#0606fa"/>
<polygon points="743.8,736 748.8,736 746.3,731.6" fill="#0606fa"/>
<polygon points="751.8,734.7 756.8,734.7 754.3,730.3" fill="#0606fa"/>
<rect x="761.7" y="712.2" width="5.6" height="5.6" fill="#06f70c"/>
<rect x="765.5" y="712.2" width="5.6" height="5.6" fill="#06f70c"/>
<rect x="769.2" y="712.2" width="5.6" height="5.6" fill="#06f70c"/>
<polygon points="779.5,646.86 785.5,646.86 782.5,652.14" fill="#e80c70"/>
<polygon points="787.8,648.66 793.8,648.66 790.8,653.94" fill="#e80c70"/>
<polygon points="779.5,653.66 785.5,653.66 782.5,658.94" fill="#e80c70"/>
<polygon points="825,709.7 830,709.7 827.5,705.3" fill="#0606fa"/>
<polygon points="828.8,709.2 833.8,709.2 831.3,704.8" fill="#0606fa"/>
<polygon points="832.5,709.7 837.5,709.7 835,705.3" fill="#0606fa"/>
<rect x="842" y="689.5" width="6" height="6" fill="#06f70c"/>
<rect x="849.5" y="692.8" width="6" height="6" fill="#06f70c"/>
<rect x="842.8" y="695.8" width="6" height="6" fill="#06f70c"/>
<polygon points="864,623.66 870,623.66 867,628.94" fill="#e80c70"/>
<polygon points="860.8,627.86 866.8,627.86 863.8,633.14" fill="#e80c70"/>
<polygon points="868.3,627.36 874.3,627.36 871.3,632.64" fill="#e80c70"/>
<polygon points="905.8,714.7 910.8,714.7 908.3,710.3" fill="#0606fa"/>
<polygon points="909.8,714.2 914.8,714.2 912.3,709.8" fill="#0606fa"/>
<polygon points="913.8,714.7 918.8,714.7 916.3,710.3" fill="#0606fa"/>
<rect x="924" y="676.5" width="6" height="6" fill="#06f70c"/>
<rect x="930.8" y="677" width="6" height="6" fill="#06f70c"/>
<rect x="927" y="687.8" width="6" height="6" fill="#06f70c"/>
<polygon points="945.8,639.86 951.8,639.86 948.8,645.14" fill="#e80c70"/>
<polygon points="942,642.36 948,642.36 945,647.64" fill="#e80c70"/>
<polygon points="950,641.86 956,641.86 953,647.14" fill="#e80c70"/>
<polygon points="987,726 992,726 989.5,721.6" fill="#0606fa"/>
<polygon points="990.8,725.5 995.8,725.5 993.3,721.1" fill="#0606fa"/>
<polygon points="994.5,726 999.5,726 997,721.6" fill="#0606fa"/>
<rect x="1008.3" y="707" width="6" height="6" fill="#06f70c"/>
<rect x="1004.5" y="714.5" width="6" height="6" fill="#06f70c"/>
<rect x="1012" y="714.5" width="6" height="6" fill="#06f70c"/>
<polygon points="1022.8,622.36 1028.8,622.36 1025.8,627.64" fill="#e80c70"/>
<polygon points="1030.8,628.66 1036.8,628.66 1033.8,633.94" fill="#e80c70"/>
<polygon points="1023.3,632.86 1029.3,632.86 1026.3,638.14" fill="#e80c70"/>
<polygon points="1071.8,690 1076.8,690 1074.3,685.6" fill="#0606fa"/>
<polygon points="1075.7,691.4 1080.7,691.4 1078.2,687" fill="#0606fa"/>
<polygon points="1067.9,697.2 1072.9,697.2 1070.4,692.8" fill="#0606fa"/>
<rect x="1089.8" y="696" width="6" height="6" fill="#06f70c"/>
<rect x="1093.7" y="697" width="6" height="6" fill="#06f70c"/>
<rect x="1085.9" y="699.9" width="6" height="6" fill="#06f70c"/>
<polygon points="1104.35,636.58 1109.85,636.58 1107.1,641.42" fill="#e80c70"/>
<polygon points="1108.25,636.58 1113.75,636.58 1111,641.42" fill="#e80c70"/>
<polygon points="1112.55,636.58 1118.05,636.58 1115.3,641.42" fill="#e80c70"/>
<line x1="768" y1="627.5" x2="786.3" y2="627.5" stroke="#000000" stroke-width="2.6" stroke-linecap="butt"/>
<text x="778.16" y="624.43" font-family='"DejaVu Sans", "Liberation Sans", sans-serif' font-size="23.05" letter-spacing="1.72" text-anchor="middle" fill="#000" stroke="#000" stroke-width="0.75" stroke-linejoin="round">****</text>
<line x1="849.3" y1="610" x2="867" y2="610" stroke="#000000" stroke-width="2.6" stroke-linecap="butt"/>
<text x="858.86" y="606.93" font-family='"DejaVu Sans", "Liberation Sans", sans-serif' font-size="23.05" letter-spacing="1.72" text-anchor="middle" fill="#000" stroke="#000" stroke-width="0.75" stroke-linejoin="round">****</text>
<line x1="930.3" y1="623.8" x2="948.3" y2="623.8" stroke="#000000" stroke-width="2.6" stroke-linecap="butt"/>
<text x="939.86" y="620.73" font-family='"DejaVu Sans", "Liberation Sans", sans-serif' font-size="23.05" letter-spacing="1.72" text-anchor="middle" fill="#000" stroke="#000" stroke-width="0.75" stroke-linejoin="round">****</text>
<line x1="1011.5" y1="605.5" x2="1029.3" y2="605.5" stroke="#000000" stroke-width="2.6" stroke-linecap="butt"/>
<text x="1021.36" y="602.43" font-family='"DejaVu Sans", "Liberation Sans", sans-serif' font-size="23.05" letter-spacing="1.72" text-anchor="middle" fill="#000" stroke="#000" stroke-width="0.75" stroke-linejoin="round">****</text>
<line x1="1092.4" y1="619.3" x2="1110.4" y2="619.3" stroke="#000000" stroke-width="2.6" stroke-linecap="butt"/>
<text x="1102.46" y="616.23" font-family='"DejaVu Sans", "Liberation Sans", sans-serif' font-size="23.05" letter-spacing="1.72" text-anchor="middle" fill="#000" stroke="#000" stroke-width="0.75" stroke-linejoin="round">****</text>
<rect x="1149.1" y="599.9" width="22.5" height="9.2" fill="#fff" stroke="#000000" stroke-width="2"/>
<text x="1187" y="610.1" font-family='"Liberation Serif", "Times New Roman", serif' font-size="18.7" font-weight="normal" text-anchor="start" fill="#000000" >Control</text>
<rect x="1149.1" y="630.5" width="22.5" height="9.2" fill="#fff" stroke="#0606fa" stroke-width="2"/>
<text x="1187" y="640.7" font-family='"Liberation Serif", "Times New Roman", serif' font-size="18.7" font-weight="normal" text-anchor="start" fill="#000000" >15 μg</text>
<rect x="1149.1" y="661.1" width="22.5" height="9.2" fill="#fff" stroke="#06f70c" stroke-width="2"/>
<text x="1187" y="671.3" font-family='"Liberation Serif", "Times New Roman", serif' font-size="18.7" font-weight="normal" text-anchor="start" fill="#000000" >30 μg</text>
<rect x="1149.1" y="691.7" width="22.5" height="9.2" fill="#fff" stroke="#e80c70" stroke-width="2"/>
<text x="1187" y="701.9" font-family='"Liberation Serif", "Times New Roman", serif' font-size="18.7" font-weight="normal" text-anchor="start" fill="#000000" >Inactivated</text>
<line x1="716.3" y1="601.51" x2="716.3" y2="909.95" stroke="#000000" stroke-width="3.5" stroke-linecap="butt"/>
<line x1="706.8" y1="908.2" x2="1127.6" y2="908.2" stroke="#000000" stroke-width="3.5" stroke-linecap="butt"/>
<line x1="706.3" y1="603" x2="716.3" y2="603" stroke="#000000" stroke-width="2.98" stroke-linecap="butt"/>
<text x="702.8" y="608.9" font-family='"Liberation Sans", Arial, sans-serif' font-size="16.4" font-weight="bold" text-anchor="end" fill="#000000" >100</text>
<line x1="706.3" y1="664" x2="716.3" y2="664" stroke="#000000" stroke-width="2.98" stroke-linecap="butt"/>
<text x="702.8" y="669.9" font-family='"Liberation Sans", Arial, sans-serif' font-size="16.4" font-weight="bold" text-anchor="end" fill="#000000" >80</text>
<line x1="706.3" y1="725" x2="716.3" y2="725" stroke="#000000" stroke-width="2.98" stroke-linecap="butt"/>
<text x="702.8" y="730.9" font-family='"Liberation Sans", Arial, sans-serif' font-size="16.4" font-weight="bold" text-anchor="end" fill="#000000" >60</text>
<line x1="706.3" y1="786" x2="716.3" y2="786" stroke="#000000" stroke-width="2.98" stroke-linecap="butt"/>
<text x="702.8" y="791.9" font-family='"Liberation Sans", Arial, sans-serif' font-size="16.4" font-weight="bold" text-anchor="end" fill="#000000" >40</text>
<line x1="706.3" y1="847.1" x2="716.3" y2="847.1" stroke="#000000" stroke-width="2.98" stroke-linecap="butt"/>
<text x="702.8" y="853" font-family='"Liberation Sans", Arial, sans-serif' font-size="16.4" font-weight="bold" text-anchor="end" fill="#000000" >20</text>
<line x1="706.3" y1="908.2" x2="716.3" y2="908.2" stroke="#000000" stroke-width="2.98" stroke-linecap="butt"/>
<text x="702.8" y="914.1" font-family='"Liberation Sans", Arial, sans-serif' font-size="16.4" font-weight="bold" text-anchor="end" fill="#000000" >0</text>
<line x1="758.9" y1="908.2" x2="758.9" y2="918.2" stroke="#000000" stroke-width="2.98" stroke-linecap="butt"/>
<text x="758.9" y="938.5" font-family='"Liberation Serif", "Times New Roman", serif' font-size="18.7" font-weight="bold" text-anchor="middle" fill="#000000" >1 W</text>
<line x1="840" y1="908.2" x2="840" y2="918.2" stroke="#000000" stroke-width="2.98" stroke-linecap="butt"/>
<text x="840" y="938.5" font-family='"Liberation Serif", "Times New Roman", serif' font-size="18.7" font-weight="bold" text-anchor="middle" fill="#000000" >2 W</text>
<line x1="921.1" y1="908.2" x2="921.1" y2="918.2" stroke="#000000" stroke-width="2.98" stroke-linecap="butt"/>
<text x="921.1" y="938.5" font-family='"Liberation Serif", "Times New Roman", serif' font-size="18.7" font-weight="bold" text-anchor="middle" fill="#000000" >3 W</text>
<line x1="1001.9" y1="908.2" x2="1001.9" y2="918.2" stroke="#000000" stroke-width="2.98" stroke-linecap="butt"/>
<text x="1001.9" y="938.5" font-family='"Liberation Serif", "Times New Roman", serif' font-size="18.7" font-weight="bold" text-anchor="middle" fill="#000000" >8 W</text>
<line x1="1083" y1="908.2" x2="1083" y2="918.2" stroke="#000000" stroke-width="2.98" stroke-linecap="butt"/>
<text x="1083" y="938.5" font-family='"Liberation Serif", "Times New Roman", serif' font-size="18.7" font-weight="bold" text-anchor="middle" fill="#000000" >13 W</text>
<text transform="translate(662,755.5) rotate(-90)" font-family='"Liberation Serif", "Times New Roman", serif' font-size="18.9" font-weight="bold" text-anchor="middle" fill="#000">Inhibition Rate (%)</text>
<circle cx="727.3" cy="872.4" r="3" fill="#000000"/>
<circle cx="731.9" cy="867.5" r="3" fill="#000000"/>
<circle cx="736.1" cy="872.4" r="3" fill="#000000"/>
<circle cx="808.4" cy="872.4" r="3" fill="#000000"/>
<circle cx="812.6" cy="866.8" r="3" fill="#000000"/>
<circle cx="816.9" cy="872.4" r="3" fill="#000000"/>
<circle cx="889.2" cy="871.7" r="3" fill="#000000"/>
<circle cx="893.4" cy="871.7" r="3" fill="#000000"/>
<circle cx="898" cy="871.7" r="3" fill="#000000"/>
<circle cx="970" cy="872.4" r="3" fill="#000000"/>
<circle cx="974.5" cy="869.1" r="3" fill="#000000"/>
<circle cx="978.8" cy="871.4" r="3" fill="#000000"/>
<circle cx="1051.1" cy="869.1" r="3" fill="#000000"/>
<circle cx="1055.3" cy="865.2" r="3" fill="#000000"/>
<circle cx="1060.2" cy="867.5" r="3" fill="#000000"/>
<path d="M120.7 1368.3V1353.7H143V1368.3" fill="#fff" stroke="#000000" stroke-width="2.4" stroke-linejoin="miter"/>
<line x1="131.8" y1="1322.5" x2="131.8" y2="1353" stroke="#000000" stroke-width="1.3" stroke-linecap="butt"/>
<line x1="125.55" y1="1322.5" x2="138.05" y2="1322.5" stroke="#000000" stroke-width="1.3" stroke-linecap="butt"/>
<path d="M151.2 1368.3V1258.7H173.4V1368.3" fill="#fff" stroke="#0606fa" stroke-width="2.4" stroke-linejoin="miter"/>
<path d="M181.7 1368.3V1236.7H203.9V1368.3" fill="#fff" stroke="#06f70c" stroke-width="2.4" stroke-linejoin="miter"/>
<path d="M212 1368.3V1186.7H234.3V1368.3" fill="#fff" stroke="#e80c70" stroke-width="2.4" stroke-linejoin="miter"/>
<line x1="161.8" y1="1237.5" x2="161.8" y2="1276.3" stroke="#0606fa" stroke-width="1.3" stroke-linecap="butt"/>
<line x1="155.3" y1="1237.5" x2="168.3" y2="1237.5" stroke="#0606fa" stroke-width="1.3" stroke-linecap="butt"/>
<line x1="155.3" y1="1276.3" x2="168.3" y2="1276.3" stroke="#0606fa" stroke-width="1.3" stroke-linecap="butt"/>
<line x1="192.5" y1="1205.8" x2="192.5" y2="1264.5" stroke="#06f70c" stroke-width="1.3" stroke-linecap="butt"/>
<line x1="186" y1="1205.8" x2="199" y2="1205.8" stroke="#06f70c" stroke-width="1.3" stroke-linecap="butt"/>
<line x1="186" y1="1264.5" x2="199" y2="1264.5" stroke="#06f70c" stroke-width="1.3" stroke-linecap="butt"/>
<line x1="223" y1="1170" x2="223" y2="1199" stroke="#e80c70" stroke-width="1.3" stroke-linecap="butt"/>
<line x1="216.5" y1="1170" x2="229.5" y2="1170" stroke="#e80c70" stroke-width="1.3" stroke-linecap="butt"/>
<line x1="216.5" y1="1199" x2="229.5" y2="1199" stroke="#e80c70" stroke-width="1.3" stroke-linecap="butt"/>
<path d="M255.5 1368.3V1353.7H277.6V1368.3" fill="#fff" stroke="#000000" stroke-width="2.4" stroke-linejoin="miter"/>
<line x1="266.5" y1="1322.5" x2="266.5" y2="1353" stroke="#000000" stroke-width="1.3" stroke-linecap="butt"/>
<line x1="260.25" y1="1322.5" x2="272.75" y2="1322.5" stroke="#000000" stroke-width="1.3" stroke-linecap="butt"/>
<path d="M286 1368.3V1158.7H308.1V1368.3" fill="#fff" stroke="#0606fa" stroke-width="2.4" stroke-linejoin="miter"/>
<path d="M315.9 1368.3V1139.2H338.1V1368.3" fill="#fff" stroke="#06f70c" stroke-width="2.4" stroke-linejoin="miter"/>
<path d="M346.2 1368.3V1150H368.4V1368.3" fill="#fff" stroke="#e80c70" stroke-width="2.4" stroke-linejoin="miter"/>
<line x1="296.8" y1="1147.5" x2="296.8" y2="1166.5" stroke="#0606fa" stroke-width="1.3" stroke-linecap="butt"/>
<line x1="290.3" y1="1147.5" x2="303.3" y2="1147.5" stroke="#0606fa" stroke-width="1.3" stroke-linecap="butt"/>
<line x1="290.3" y1="1166.5" x2="303.3" y2="1166.5" stroke="#0606fa" stroke-width="1.3" stroke-linecap="butt"/>
<line x1="327" y1="1120.5" x2="327" y2="1155" stroke="#06f70c" stroke-width="1.3" stroke-linecap="butt"/>
<line x1="320.5" y1="1120.5" x2="333.5" y2="1120.5" stroke="#06f70c" stroke-width="1.3" stroke-linecap="butt"/>
<line x1="320.5" y1="1155" x2="333.5" y2="1155" stroke="#06f70c" stroke-width="1.3" stroke-linecap="butt"/>
<line x1="357" y1="1143.8" x2="357" y2="1153" stroke="#e80c70" stroke-width="1.3" stroke-linecap="butt"/>
<line x1="350.5" y1="1143.8" x2="363.5" y2="1143.8" stroke="#e80c70" stroke-width="1.3" stroke-linecap="butt"/>
<line x1="350.5" y1="1153" x2="363.5" y2="1153" stroke="#e80c70" stroke-width="1.3" stroke-linecap="butt"/>
<path d="M419.4 1368.3V1203.7H442.1V1368.3" fill="#fff" stroke="#0606fa" stroke-width="2.4" stroke-linejoin="miter"/>
<path d="M449.9 1368.3V1225.5H472.6V1368.3" fill="#fff" stroke="#06f70c" stroke-width="2.4" stroke-linejoin="miter"/>
<path d="M480.4 1368.3V1128.4H503.1V1368.3" fill="#fff" stroke="#e80c70" stroke-width="2.4" stroke-linejoin="miter"/>
<line x1="430.6" y1="1187.3" x2="430.6" y2="1216" stroke="#0606fa" stroke-width="1.3" stroke-linecap="butt"/>
<line x1="424.1" y1="1187.3" x2="437.1" y2="1187.3" stroke="#0606fa" stroke-width="1.3" stroke-linecap="butt"/>
<line x1="424.1" y1="1216" x2="437.1" y2="1216" stroke="#0606fa" stroke-width="1.3" stroke-linecap="butt"/>
<line x1="461" y1="1213.9" x2="461" y2="1232.4" stroke="#06f70c" stroke-width="1.3" stroke-linecap="butt"/>
<line x1="454.5" y1="1213.9" x2="467.5" y2="1213.9" stroke="#06f70c" stroke-width="1.3" stroke-linecap="butt"/>
<line x1="454.5" y1="1232.4" x2="467.5" y2="1232.4" stroke="#06f70c" stroke-width="1.3" stroke-linecap="butt"/>
<line x1="491.6" y1="1111.9" x2="491.6" y2="1140.9" stroke="#e80c70" stroke-width="1.3" stroke-linecap="butt"/>
<line x1="485.1" y1="1111.9" x2="498.1" y2="1111.9" stroke="#e80c70" stroke-width="1.3" stroke-linecap="butt"/>
<line x1="485.1" y1="1140.9" x2="498.1" y2="1140.9" stroke="#e80c70" stroke-width="1.3" stroke-linecap="butt"/>
<polygon points="158.55,1237.36 165.05,1237.36 161.8,1231.64" fill="#0606fa"/>
<polygon points="149.75,1271.66 156.25,1271.66 153,1265.94" fill="#0606fa"/>
<polygon points="168.05,1271.66 174.55,1271.66 171.3,1265.94" fill="#0606fa"/>
<rect x="180.4" y="1214.9" width="6.8" height="6.8" fill="#06f70c"/>
<rect x="198.4" y="1214.9" width="6.8" height="6.8" fill="#06f70c"/>
<rect x="189.1" y="1264.1" width="6.8" height="6.8" fill="#06f70c"/>
<polygon points="219.75,1164.64 226.25,1164.64 223,1170.36" fill="#e80c70"/>
<polygon points="211.25,1189.14 217.75,1189.14 214.5,1194.86" fill="#e80c70"/>
<polygon points="229.25,1189.14 235.75,1189.14 232.5,1194.86" fill="#e80c70"/>
<polygon points="284.75,1154.16 291.25,1154.16 288,1148.44" fill="#0606fa"/>
<polygon points="301.75,1154.16 308.25,1154.16 305,1148.44" fill="#0606fa"/>
<polygon points="293.55,1171.66 300.05,1171.66 296.8,1165.94" fill="#0606fa"/>
<rect x="323.6" y="1114.1" width="6.8" height="6.8" fill="#06f70c"/>
<rect x="323.6" y="1139.1" width="6.8" height="6.8" fill="#06f70c"/>
<rect x="323.6" y="1147.9" width="6.8" height="6.8" fill="#06f70c"/>
<polygon points="353.75,1138.94 360.25,1138.94 357,1144.66" fill="#e80c70"/>
<polygon points="345.55,1148.44 352.05,1148.44 348.8,1154.16" fill="#e80c70"/>
<polygon points="362.25,1148.44 368.75,1148.44 365.5,1154.16" fill="#e80c70"/>
<polygon points="418.65,1197.16 425.15,1197.16 421.9,1191.44" fill="#0606fa"/>
<polygon points="436.75,1197.16 443.25,1197.16 440,1191.44" fill="#0606fa"/>
<polygon points="427.35,1221.76 433.85,1221.76 430.6,1216.04" fill="#0606fa"/>
<rect x="449" y="1214.8" width="6.8" height="6.8" fill="#06f70c"/>
<rect x="466.6" y="1214.8" width="6.8" height="6.8" fill="#06f70c"/>
<rect x="457.3" y="1231.6" width="6.8" height="6.8" fill="#06f70c"/>
<polygon points="479.25,1114.54 485.75,1114.54 482.5,1120.26" fill="#e80c70"/>
<polygon points="497.75,1114.54 504.25,1114.54 501,1120.26" fill="#e80c70"/>
<polygon points="488.35,1140.14 494.85,1140.14 491.6,1145.86" fill="#e80c70"/>
<line x1="162" y1="1137" x2="223" y2="1137" stroke="#000000" stroke-width="2.6" stroke-linecap="butt"/>
<text x="193.36" y="1134.43" font-family='"DejaVu Sans", "Liberation Sans", sans-serif' font-size="23.05" letter-spacing="1.72" text-anchor="middle" fill="#000" stroke="#000" stroke-width="0.75" stroke-linejoin="round">***</text>
<line x1="192.5" y1="1164.5" x2="223" y2="1164.5" stroke="#000000" stroke-width="2.6" stroke-linecap="butt"/>
<text x="208.66" y="1161.93" font-family='"DejaVu Sans", "Liberation Sans", sans-serif' font-size="23.05" letter-spacing="1.72" text-anchor="middle" fill="#000" stroke="#000" stroke-width="0.75" stroke-linejoin="round">*</text>
<line x1="430.6" y1="1078.2" x2="491.6" y2="1078.2" stroke="#000000" stroke-width="2.6" stroke-linecap="butt"/>
<text x="461.96" y="1075.63" font-family='"DejaVu Sans", "Liberation Sans", sans-serif' font-size="23.05" letter-spacing="1.72" text-anchor="middle" fill="#000" stroke="#000" stroke-width="0.75" stroke-linejoin="round">***</text>
<line x1="461.3" y1="1105.6" x2="491.6" y2="1105.6" stroke="#000000" stroke-width="2.6" stroke-linecap="butt"/>
<text x="477.26" y="1103.03" font-family='"DejaVu Sans", "Liberation Sans", sans-serif' font-size="23.05" letter-spacing="1.72" text-anchor="middle" fill="#000" stroke="#000" stroke-width="0.75" stroke-linejoin="round">****</text>
<line x1="106.6" y1="1033.07" x2="106.6" y2="1370.1" stroke="#000000" stroke-width="3.6" stroke-linecap="butt"/>
<line x1="96.5" y1="1368.3" x2="518.4" y2="1368.3" stroke="#000000" stroke-width="3.6" stroke-linecap="butt"/>
<line x1="96.6" y1="1034.6" x2="106.6" y2="1034.6" stroke="#000000" stroke-width="3.06" stroke-linecap="butt"/>
<text x="93" y="1040.6" font-family='"Liberation Serif", "Times New Roman", serif' font-size="18.5" font-weight="bold" text-anchor="end" fill="#000000" >4</text>
<line x1="96.6" y1="1118" x2="106.6" y2="1118" stroke="#000000" stroke-width="3.06" stroke-linecap="butt"/>
<text x="93" y="1124" font-family='"Liberation Serif", "Times New Roman", serif' font-size="18.5" font-weight="bold" text-anchor="end" fill="#000000" >3</text>
<line x1="96.6" y1="1201.4" x2="106.6" y2="1201.4" stroke="#000000" stroke-width="3.06" stroke-linecap="butt"/>
<text x="93" y="1207.4" font-family='"Liberation Serif", "Times New Roman", serif' font-size="18.5" font-weight="bold" text-anchor="end" fill="#000000" >2</text>
<line x1="96.6" y1="1284.9" x2="106.6" y2="1284.9" stroke="#000000" stroke-width="3.06" stroke-linecap="butt"/>
<text x="93" y="1290.9" font-family='"Liberation Serif", "Times New Roman", serif' font-size="18.5" font-weight="bold" text-anchor="end" fill="#000000" >1</text>
<line x1="96.6" y1="1368.3" x2="106.6" y2="1368.3" stroke="#000000" stroke-width="3.06" stroke-linecap="butt"/>
<text x="93" y="1374.3" font-family='"Liberation Serif", "Times New Roman", serif' font-size="18.5" font-weight="bold" text-anchor="end" fill="#000000" >0</text>
<line x1="177.5" y1="1368.3" x2="177.5" y2="1378.3" stroke="#000000" stroke-width="3.06" stroke-linecap="butt"/>
<text x="177.5" y="1397.7" font-family='"Liberation Serif", "Times New Roman", serif' font-size="18.7" font-weight="bold" text-anchor="middle" fill="#000000" >2 W</text>
<line x1="312" y1="1368.3" x2="312" y2="1378.3" stroke="#000000" stroke-width="3.06" stroke-linecap="butt"/>
<text x="312" y="1397.7" font-family='"Liberation Serif", "Times New Roman", serif' font-size="18.7" font-weight="bold" text-anchor="middle" fill="#000000" >3 W</text>
<line x1="445.5" y1="1368.3" x2="445.5" y2="1378.3" stroke="#000000" stroke-width="3.06" stroke-linecap="butt"/>
<text x="445.5" y="1397.7" font-family='"Liberation Serif", "Times New Roman", serif' font-size="18.7" font-weight="bold" text-anchor="middle" fill="#000000" >4 W</text>
<text transform="translate(74.1,1200.8) rotate(-90)" font-family='"Liberation Serif", "Times New Roman", serif' font-size="19.2" font-weight="bold" text-anchor="middle" fill="#000">Neutralization titer (Log<tspan dy="-9" font-size="13.8">10</tspan><tspan dy="9">)</tspan></text>
<circle cx="131.8" cy="1318" r="3" fill="#000000"/>
<circle cx="122.5" cy="1368.3" r="3" fill="#000000"/>
<circle cx="140.5" cy="1368.3" r="3" fill="#000000"/>
<circle cx="266.5" cy="1318" r="3" fill="#000000"/>
<circle cx="257.2" cy="1368.3" r="3" fill="#000000"/>
<circle cx="275.2" cy="1368.3" r="3" fill="#000000"/>
<circle cx="391.1" cy="1368.3" r="3" fill="#000000"/>
<circle cx="400.1" cy="1368.3" r="3" fill="#000000"/>
<circle cx="409.4" cy="1368.3" r="3" fill="#000000"/>
<path d="M743.3 1372.6V1142.3H757.6V1372.6" fill="#fff" stroke="#0606fa" stroke-width="2.4" stroke-linejoin="miter"/>
<path d="M764.1 1372.6V1170.5H778.4V1372.6" fill="#fff" stroke="#000000" stroke-width="2.4" stroke-linejoin="miter"/>
<path d="M784.9 1372.6V1094.8H799.2V1372.6" fill="#fff" stroke="#e80c70" stroke-width="2.4" stroke-linejoin="miter"/>
<path d="M834.8 1372.6V1160.9H849.1V1372.6" fill="#fff" stroke="#0606fa" stroke-width="2.4" stroke-linejoin="miter"/>
<path d="M855.6 1372.6V1181.3H869.9V1372.6" fill="#fff" stroke="#000000" stroke-width="2.4" stroke-linejoin="miter"/>
<path d="M876.4 1372.6V1094.8H890.7V1372.6" fill="#fff" stroke="#e80c70" stroke-width="2.4" stroke-linejoin="miter"/>
<path d="M926.1 1372.6V1188.6H940.4V1372.6" fill="#fff" stroke="#0606fa" stroke-width="2.4" stroke-linejoin="miter"/>
<path d="M946.9 1372.6V1188.6H961.2V1372.6" fill="#fff" stroke="#000000" stroke-width="2.4" stroke-linejoin="miter"/>
<path d="M967.7 1372.6V1105.7H982V1372.6" fill="#fff" stroke="#e80c70" stroke-width="2.4" stroke-linejoin="miter"/>
<path d="M1017.7 1372.6V1189.1H1032V1372.6" fill="#fff" stroke="#0606fa" stroke-width="2.4" stroke-linejoin="miter"/>
<path d="M1038.5 1372.6V1198.5H1052.8V1372.6" fill="#fff" stroke="#000000" stroke-width="2.4" stroke-linejoin="miter"/>
<path d="M1059.3 1372.6V1114.6H1073.6V1372.6" fill="#fff" stroke="#e80c70" stroke-width="2.4" stroke-linejoin="miter"/>
<path d="M1108.9 1372.6V1217.2H1123.2V1372.6" fill="#fff" stroke="#0606fa" stroke-width="2.4" stroke-linejoin="miter"/>
<path d="M1129.7 1372.6V1188.7H1144V1372.6" fill="#fff" stroke="#000000" stroke-width="2.4" stroke-linejoin="miter"/>
<path d="M1150.5 1372.6V1142.6H1164.8V1372.6" fill="#fff" stroke="#e80c70" stroke-width="2.4" stroke-linejoin="miter"/>
<line x1="750.5" y1="1123.8" x2="750.5" y2="1141.1" stroke="#0606fa" stroke-width="2" stroke-linecap="butt"/>
<line x1="746" y1="1123.8" x2="755" y2="1123.8" stroke="#0606fa" stroke-width="2" stroke-linecap="butt"/>
<line x1="771.3" y1="1149.9" x2="771.3" y2="1169.3" stroke="#06f70c" stroke-width="2" stroke-linecap="butt"/>
<line x1="766.8" y1="1149.9" x2="775.8" y2="1149.9" stroke="#06f70c" stroke-width="2" stroke-linecap="butt"/>
<line x1="842.2" y1="1142.6" x2="842.2" y2="1159.7" stroke="#0606fa" stroke-width="2" stroke-linecap="butt"/>
<line x1="837.7" y1="1142.6" x2="846.7" y2="1142.6" stroke="#0606fa" stroke-width="2" stroke-linecap="butt"/>
<line x1="933.3" y1="1170.7" x2="933.3" y2="1187.4" stroke="#0606fa" stroke-width="2" stroke-linecap="butt"/>
<line x1="928.8" y1="1170.7" x2="937.8" y2="1170.7" stroke="#0606fa" stroke-width="2" stroke-linecap="butt"/>
<line x1="954.1" y1="1170.7" x2="954.1" y2="1187.4" stroke="#06f70c" stroke-width="2" stroke-linecap="butt"/>
<line x1="949.6" y1="1170.7" x2="958.6" y2="1170.7" stroke="#06f70c" stroke-width="2" stroke-linecap="butt"/>
<line x1="974.6" y1="1086.7" x2="974.6" y2="1104.5" stroke="#e80c70" stroke-width="2" stroke-linecap="butt"/>
<line x1="970.1" y1="1086.7" x2="979.1" y2="1086.7" stroke="#e80c70" stroke-width="2" stroke-linecap="butt"/>
<line x1="1024.9" y1="1171.1" x2="1024.9" y2="1187.9" stroke="#0606fa" stroke-width="2" stroke-linecap="butt"/>
<line x1="1020.4" y1="1171.1" x2="1029.4" y2="1171.1" stroke="#0606fa" stroke-width="2" stroke-linecap="butt"/>
<line x1="1045.4" y1="1177.9" x2="1045.4" y2="1197.3" stroke="#06f70c" stroke-width="2" stroke-linecap="butt"/>
<line x1="1040.9" y1="1177.9" x2="1049.9" y2="1177.9" stroke="#06f70c" stroke-width="2" stroke-linecap="butt"/>
<line x1="1066" y1="1097" x2="1066" y2="1113.4" stroke="#e80c70" stroke-width="2" stroke-linecap="butt"/>
<line x1="1061.5" y1="1097" x2="1070.5" y2="1097" stroke="#e80c70" stroke-width="2" stroke-linecap="butt"/>
<line x1="1116.1" y1="1198.9" x2="1116.1" y2="1216" stroke="#0606fa" stroke-width="2" stroke-linecap="butt"/>
<line x1="1111.6" y1="1198.9" x2="1120.6" y2="1198.9" stroke="#0606fa" stroke-width="2" stroke-linecap="butt"/>
<line x1="1136.6" y1="1171.1" x2="1136.6" y2="1187.5" stroke="#06f70c" stroke-width="2" stroke-linecap="butt"/>
<line x1="1132.1" y1="1171.1" x2="1141.1" y2="1171.1" stroke="#06f70c" stroke-width="2" stroke-linecap="butt"/>
<line x1="1157.4" y1="1123.2" x2="1157.4" y2="1141.4" stroke="#e80c70" stroke-width="2" stroke-linecap="butt"/>
<line x1="1152.9" y1="1123.2" x2="1161.9" y2="1123.2" stroke="#e80c70" stroke-width="2" stroke-linecap="butt"/>
<polygon points="747.05,1124.54 753.95,1124.54 750.5,1118.46" fill="#0606fa"/>
<polygon points="742.25,1152.94 749.15,1152.94 745.7,1146.86" fill="#0606fa"/>
<polygon points="752.05,1152.94 758.95,1152.94 755.5,1146.86" fill="#0606fa"/>
<rect x="768" y="1147" width="6.6" height="6.6" fill="#06f70c"/>
<rect x="763.2" y="1174.1" width="6.6" height="6.6" fill="#06f70c"/>
<rect x="773" y="1174.1" width="6.6" height="6.6" fill="#06f70c"/>
<polygon points="783.75,1090.96 790.65,1090.96 787.2,1097.04" fill="#e80c70"/>
<polygon points="788.55,1090.96 795.45,1090.96 792,1097.04" fill="#e80c70"/>
<polygon points="793.35,1090.96 800.25,1090.96 796.8,1097.04" fill="#e80c70"/>
<polygon points="834.35,1153.54 841.25,1153.54 837.8,1147.46" fill="#0606fa"/>
<polygon points="843.35,1153.54 850.25,1153.54 846.8,1147.46" fill="#0606fa"/>
<polygon points="838.75,1181.04 845.65,1181.04 842.2,1174.96" fill="#0606fa"/>
<rect x="854.9" y="1174.1" width="6.6" height="6.6" fill="#06f70c"/>
<rect x="859.7" y="1174.1" width="6.6" height="6.6" fill="#06f70c"/>
<rect x="864.5" y="1174.1" width="6.6" height="6.6" fill="#06f70c"/>
<polygon points="875.15,1090.96 882.05,1090.96 878.6,1097.04" fill="#e80c70"/>
<polygon points="879.95,1090.96 886.85,1090.96 883.4,1097.04" fill="#e80c70"/>
<polygon points="884.75,1090.96 891.65,1090.96 888.2,1097.04" fill="#e80c70"/>
<polygon points="925.05,1181.04 931.95,1181.04 928.5,1174.96" fill="#0606fa"/>
<polygon points="934.45,1181.04 941.35,1181.04 937.9,1174.96" fill="#0606fa"/>
<polygon points="929.85,1208.84 936.75,1208.84 933.3,1202.76" fill="#0606fa"/>
<rect x="946" y="1174.1" width="6.6" height="6.6" fill="#06f70c"/>
<rect x="956" y="1174.1" width="6.6" height="6.6" fill="#06f70c"/>
<rect x="950.8" y="1202.3" width="6.6" height="6.6" fill="#06f70c"/>
<polygon points="966.35,1090.96 973.25,1090.96 969.8,1097.04" fill="#e80c70"/>
<polygon points="976.15,1090.96 983.05,1090.96 979.6,1097.04" fill="#e80c70"/>
<polygon points="971.15,1118.76 978.05,1118.76 974.6,1124.84" fill="#e80c70"/>
<polygon points="1017.15,1180.94 1024.05,1180.94 1020.6,1174.86" fill="#0606fa"/>
<polygon points="1026.75,1180.94 1033.65,1180.94 1030.2,1174.86" fill="#0606fa"/>
<polygon points="1021.45,1208.74 1028.35,1208.74 1024.9,1202.66" fill="#0606fa"/>
<rect x="1042.1" y="1174.6" width="6.6" height="6.6" fill="#06f70c"/>
<rect x="1037.1" y="1202.4" width="6.6" height="6.6" fill="#06f70c"/>
<rect x="1047.4" y="1202.4" width="6.6" height="6.6" fill="#06f70c"/>
<polygon points="1062.55,1090.26 1069.45,1090.26 1066,1096.34" fill="#e80c70"/>
<polygon points="1057.45,1118.76 1064.35,1118.76 1060.9,1124.84" fill="#e80c70"/>
<polygon points="1067.75,1118.76 1074.65,1118.76 1071.2,1124.84" fill="#e80c70"/>
<polygon points="1108.15,1209.44 1115.05,1209.44 1111.6,1203.36" fill="#0606fa"/>
<polygon points="1117.95,1209.44 1124.85,1209.44 1121.4,1203.36" fill="#0606fa"/>
<polygon points="1112.65,1236.14 1119.55,1236.14 1116.1,1230.06" fill="#0606fa"/>
<rect x="1128.3" y="1174.6" width="6.6" height="6.6" fill="#06f70c"/>
<rect x="1138.6" y="1174.6" width="6.6" height="6.6" fill="#06f70c"/>
<rect x="1133.3" y="1202.4" width="6.6" height="6.6" fill="#06f70c"/>
<polygon points="1153.95,1117.86 1160.85,1117.86 1157.4,1123.94" fill="#e80c70"/>
<polygon points="1149.15,1146.16 1156.05,1146.16 1152.6,1152.24" fill="#e80c70"/>
<polygon points="1158.95,1146.16 1165.85,1146.16 1162.4,1152.24" fill="#e80c70"/>
<line x1="750.5" y1="1041.5" x2="791.5" y2="1041.5" stroke="#000000" stroke-width="2.6" stroke-linecap="butt"/>
<text x="771.54" y="1038.4" font-family='"DejaVu Sans", "Liberation Sans", sans-serif' font-size="22.45" letter-spacing="1.68" text-anchor="middle" fill="#000" stroke="#000" stroke-width="0.75" stroke-linejoin="round">***</text>
<line x1="771.3" y1="1071.7" x2="791.5" y2="1071.7" stroke="#000000" stroke-width="2.6" stroke-linecap="butt"/>
<text x="782.34" y="1068.6" font-family='"DejaVu Sans", "Liberation Sans", sans-serif' font-size="22.45" letter-spacing="1.68" text-anchor="middle" fill="#000" stroke="#000" stroke-width="0.75" stroke-linejoin="round">****</text>
<line x1="750.5" y1="1108.6" x2="770.9" y2="1108.6" stroke="#000000" stroke-width="2.6" stroke-linecap="butt"/>
<text x="761.54" y="1105.5" font-family='"DejaVu Sans", "Liberation Sans", sans-serif' font-size="22.45" letter-spacing="1.68" text-anchor="middle" fill="#000" stroke="#000" stroke-width="0.75" stroke-linejoin="round">*</text>
<line x1="842.2" y1="1046.7" x2="882.8" y2="1046.7" stroke="#000000" stroke-width="2.6" stroke-linecap="butt"/>
<text x="863.24" y="1043.6" font-family='"DejaVu Sans", "Liberation Sans", sans-serif' font-size="22.45" letter-spacing="1.68" text-anchor="middle" fill="#000" stroke="#000" stroke-width="0.75" stroke-linejoin="round">****</text>
<line x1="862.6" y1="1077.8" x2="882.8" y2="1077.8" stroke="#000000" stroke-width="2.6" stroke-linecap="butt"/>
<text x="873.64" y="1074.7" font-family='"DejaVu Sans", "Liberation Sans", sans-serif' font-size="22.45" letter-spacing="1.68" text-anchor="middle" fill="#000" stroke="#000" stroke-width="0.75" stroke-linejoin="round">****</text>
<line x1="933.3" y1="1053.6" x2="974.4" y2="1053.6" stroke="#000000" stroke-width="2.6" stroke-linecap="butt"/>
<text x="954.34" y="1050.5" font-family='"DejaVu Sans", "Liberation Sans", sans-serif' font-size="22.45" letter-spacing="1.68" text-anchor="middle" fill="#000" stroke="#000" stroke-width="0.75" stroke-linejoin="round">****</text>
<line x1="954.1" y1="1081.9" x2="974.4" y2="1081.9" stroke="#000000" stroke-width="2.6" stroke-linecap="butt"/>
<text x="964.74" y="1078.8" font-family='"DejaVu Sans", "Liberation Sans", sans-serif' font-size="22.45" letter-spacing="1.68" text-anchor="middle" fill="#000" stroke="#000" stroke-width="0.75" stroke-linejoin="round">****</text>
<line x1="1024.7" y1="1050.2" x2="1065.5" y2="1050.2" stroke="#000000" stroke-width="2.6" stroke-linecap="butt"/>
<text x="1045.84" y="1047.1" font-family='"DejaVu Sans", "Liberation Sans", sans-serif' font-size="22.45" letter-spacing="1.68" text-anchor="middle" fill="#000" stroke="#000" stroke-width="0.75" stroke-linejoin="round">****</text>
<line x1="1045.4" y1="1079.6" x2="1065.5" y2="1079.6" stroke="#000000" stroke-width="2.6" stroke-linecap="butt"/>
<text x="1056.04" y="1076.5" font-family='"DejaVu Sans", "Liberation Sans", sans-serif' font-size="22.45" letter-spacing="1.68" text-anchor="middle" fill="#000" stroke="#000" stroke-width="0.75" stroke-linejoin="round">****</text>
<line x1="1116.1" y1="1078.7" x2="1156.9" y2="1078.7" stroke="#000000" stroke-width="2.6" stroke-linecap="butt"/>
<text x="1137.44" y="1075.6" font-family='"DejaVu Sans", "Liberation Sans", sans-serif' font-size="22.45" letter-spacing="1.68" text-anchor="middle" fill="#000" stroke="#000" stroke-width="0.75" stroke-linejoin="round">****</text>
<line x1="1136.9" y1="1111.1" x2="1156.9" y2="1111.1" stroke="#000000" stroke-width="2.6" stroke-linecap="butt"/>
<text x="1147.74" y="1108" font-family='"DejaVu Sans", "Liberation Sans", sans-serif' font-size="22.45" letter-spacing="1.68" text-anchor="middle" fill="#000" stroke="#000" stroke-width="0.75" stroke-linejoin="round">***</text>
<line x1="1116.1" y1="1166.7" x2="1136.2" y2="1166.7" stroke="#000000" stroke-width="2.6" stroke-linecap="butt"/>
<text x="1126.94" y="1163.6" font-family='"DejaVu Sans", "Liberation Sans", sans-serif' font-size="22.45" letter-spacing="1.68" text-anchor="middle" fill="#000" stroke="#000" stroke-width="0.75" stroke-linejoin="round">*</text>
<rect x="1188.9" y="992.4" width="21.7" height="8.4" fill="#fff" stroke="#000000" stroke-width="2"/>
<text x="1225.8" y="1001.8" font-family='"Liberation Serif", "Times New Roman", serif' font-size="18.4" font-weight="normal" text-anchor="start" fill="#000000" >Control</text>
<rect x="1188.9" y="1021.45" width="21.7" height="8.4" fill="#fff" stroke="#0606fa" stroke-width="2"/>
<text x="1225.8" y="1030.85" font-family='"Liberation Serif", "Times New Roman", serif' font-size="18.4" font-weight="normal" text-anchor="start" fill="#000000" >15 μg</text>
<rect x="1188.9" y="1050.5" width="21.7" height="8.4" fill="#fff" stroke="#000000" stroke-width="2"/>
<text x="1225.8" y="1059.9" font-family='"Liberation Serif", "Times New Roman", serif' font-size="18.4" font-weight="normal" text-anchor="start" fill="#000000" >30 μg</text>
<rect x="1188.9" y="1079.55" width="21.7" height="8.4" fill="#fff" stroke="#e80c70" stroke-width="2"/>
<text x="1225.8" y="1088.95" font-family='"Liberation Serif", "Times New Roman", serif' font-size="18.4" font-weight="normal" text-anchor="start" fill="#000000" >Inactivated</text>
<line x1="712.8" y1="999.47" x2="712.8" y2="1374.4" stroke="#000000" stroke-width="3.6" stroke-linecap="butt"/>
<line x1="702.7" y1="1372.6" x2="1175.6" y2="1372.6" stroke="#000000" stroke-width="3.6" stroke-linecap="butt"/>
<line x1="702.8" y1="1001" x2="712.8" y2="1001" stroke="#000000" stroke-width="3.06" stroke-linecap="butt"/>
<text x="700" y="1006.9" font-family='"Liberation Serif", "Times New Roman", serif' font-size="18" font-weight="bold" text-anchor="end" fill="#000000" >4</text>
<line x1="702.8" y1="1093.9" x2="712.8" y2="1093.9" stroke="#000000" stroke-width="3.06" stroke-linecap="butt"/>
<text x="700" y="1099.8" font-family='"Liberation Serif", "Times New Roman", serif' font-size="18" font-weight="bold" text-anchor="end" fill="#000000" >3</text>
<line x1="702.8" y1="1186.8" x2="712.8" y2="1186.8" stroke="#000000" stroke-width="3.06" stroke-linecap="butt"/>
<text x="700" y="1192.7" font-family='"Liberation Serif", "Times New Roman", serif' font-size="18" font-weight="bold" text-anchor="end" fill="#000000" >2</text>
<line x1="702.8" y1="1279.7" x2="712.8" y2="1279.7" stroke="#000000" stroke-width="3.06" stroke-linecap="butt"/>
<text x="700" y="1285.6" font-family='"Liberation Serif", "Times New Roman", serif' font-size="18" font-weight="bold" text-anchor="end" fill="#000000" >1</text>
<line x1="702.8" y1="1372.6" x2="712.8" y2="1372.6" stroke="#000000" stroke-width="3.06" stroke-linecap="butt"/>
<text x="700" y="1378.5" font-family='"Liberation Serif", "Times New Roman", serif' font-size="18" font-weight="bold" text-anchor="end" fill="#000000" >0</text>
<line x1="760.4" y1="1372.6" x2="760.4" y2="1382.6" stroke="#000000" stroke-width="3.06" stroke-linecap="butt"/>
<text x="760.4" y="1399.6" font-family='"Liberation Sans", Arial, sans-serif' font-size="16" font-weight="bold" text-anchor="middle" fill="#000000" >1 W</text>
<line x1="851.6" y1="1372.6" x2="851.6" y2="1382.6" stroke="#000000" stroke-width="3.06" stroke-linecap="butt"/>
<text x="851.6" y="1399.6" font-family='"Liberation Sans", Arial, sans-serif' font-size="16" font-weight="bold" text-anchor="middle" fill="#000000" >2 W</text>
<line x1="942.8" y1="1372.6" x2="942.8" y2="1382.6" stroke="#000000" stroke-width="3.06" stroke-linecap="butt"/>
<text x="942.8" y="1399.6" font-family='"Liberation Sans", Arial, sans-serif' font-size="16" font-weight="bold" text-anchor="middle" fill="#000000" >3 W</text>
<line x1="1034" y1="1372.6" x2="1034" y2="1382.6" stroke="#000000" stroke-width="3.06" stroke-linecap="butt"/>
<text x="1034" y="1399.6" font-family='"Liberation Sans", Arial, sans-serif' font-size="16" font-weight="bold" text-anchor="middle" fill="#000000" >8 W</text>
<line x1="1125.2" y1="1372.6" x2="1125.2" y2="1382.6" stroke="#000000" stroke-width="3.06" stroke-linecap="butt"/>
<text x="1125.2" y="1399.6" font-family='"Liberation Sans", Arial, sans-serif' font-size="16" font-weight="bold" text-anchor="middle" fill="#000000" >13 W</text>
<text transform="translate(679.8,1185.5) rotate(-90)" font-family='"Liberation Serif", "Times New Roman", serif' font-size="18.3" font-weight="bold" text-anchor="middle" fill="#000">Neutralization titer (Log<tspan dy="-8" font-size="13.2">10</tspan><tspan dy="8">)</tspan></text>
<circle cx="724.6" cy="1372.6" r="2.8" fill="#000"/>
<circle cx="729.7" cy="1372.6" r="2.8" fill="#000"/>
<circle cx="734.8" cy="1372.6" r="2.8" fill="#000"/>
<circle cx="816.1" cy="1372.6" r="2.8" fill="#000"/>
<circle cx="821.2" cy="1372.6" r="2.8" fill="#000"/>
<circle cx="826.3" cy="1372.6" r="2.8" fill="#000"/>
<circle cx="907.4" cy="1372.6" r="2.8" fill="#000"/>
<circle cx="912.5" cy="1372.6" r="2.8" fill="#000"/>
<circle cx="917.6" cy="1372.6" r="2.8" fill="#000"/>
<circle cx="999" cy="1372.6" r="2.8" fill="#000"/>
<circle cx="1004.1" cy="1372.6" r="2.8" fill="#000"/>
<circle cx="1009.2" cy="1372.6" r="2.8" fill="#000"/>
<circle cx="1090.2" cy="1372.6" r="2.8" fill="#000"/>
<circle cx="1095.3" cy="1372.6" r="2.8" fill="#000"/>
<circle cx="1100.4" cy="1372.6" r="2.8" fill="#000"/>
<path d="M120.7 1799V1785.7H142.6V1799" fill="#fff" stroke="#000000" stroke-width="2.4" stroke-linejoin="miter"/>
<line x1="131.3" y1="1756.8" x2="131.3" y2="1785" stroke="#000000" stroke-width="1.3" stroke-linecap="butt"/>
<line x1="125.3" y1="1756.8" x2="137.3" y2="1756.8" stroke="#000000" stroke-width="1.3" stroke-linecap="butt"/>
<path d="M151.2 1799V1624.5H173.4V1799" fill="#fff" stroke="#0606fa" stroke-width="2.4" stroke-linejoin="miter"/>
<path d="M181.7 1799V1601.2H203.9V1799" fill="#fff" stroke="#06f70c" stroke-width="2.4" stroke-linejoin="miter"/>
<path d="M212 1799V1601.2H234.3V1799" fill="#fff" stroke="#e80c70" stroke-width="2.4" stroke-linejoin="miter"/>
<line x1="161.8" y1="1608.8" x2="161.8" y2="1635.8" stroke="#0606fa" stroke-width="1.3" stroke-linecap="butt"/>
<line x1="155.3" y1="1608.8" x2="168.3" y2="1608.8" stroke="#0606fa" stroke-width="1.3" stroke-linecap="butt"/>
<line x1="155.3" y1="1635.8" x2="168.3" y2="1635.8" stroke="#0606fa" stroke-width="1.3" stroke-linecap="butt"/>
<line x1="192.5" y1="1585.8" x2="192.5" y2="1612.5" stroke="#06f70c" stroke-width="1.3" stroke-linecap="butt"/>
<line x1="186" y1="1585.8" x2="199" y2="1585.8" stroke="#06f70c" stroke-width="1.3" stroke-linecap="butt"/>
<line x1="186" y1="1612.5" x2="199" y2="1612.5" stroke="#06f70c" stroke-width="1.3" stroke-linecap="butt"/>
<line x1="223" y1="1585.8" x2="223" y2="1612.5" stroke="#e80c70" stroke-width="1.3" stroke-linecap="butt"/>
<line x1="216.5" y1="1585.8" x2="229.5" y2="1585.8" stroke="#e80c70" stroke-width="1.3" stroke-linecap="butt"/>
<line x1="216.5" y1="1612.5" x2="229.5" y2="1612.5" stroke="#e80c70" stroke-width="1.3" stroke-linecap="butt"/>
<path d="M286 1799V1601.2H308.1V1799" fill="#fff" stroke="#0606fa" stroke-width="2.4" stroke-linejoin="miter"/>
<path d="M316.2 1799V1616.2H338.4V1799" fill="#fff" stroke="#06f70c" stroke-width="2.4" stroke-linejoin="miter"/>
<path d="M346.7 1799V1593.7H368.8V1799" fill="#fff" stroke="#e80c70" stroke-width="2.4" stroke-linejoin="miter"/>
<line x1="297" y1="1585.8" x2="297" y2="1612.5" stroke="#0606fa" stroke-width="1.3" stroke-linecap="butt"/>
<line x1="290.5" y1="1585.8" x2="303.5" y2="1585.8" stroke="#0606fa" stroke-width="1.3" stroke-linecap="butt"/>
<line x1="290.5" y1="1612.5" x2="303.5" y2="1612.5" stroke="#0606fa" stroke-width="1.3" stroke-linecap="butt"/>
<line x1="358" y1="1568.8" x2="358" y2="1615" stroke="#e80c70" stroke-width="1.3" stroke-linecap="butt"/>
<line x1="351.5" y1="1568.8" x2="364.5" y2="1568.8" stroke="#e80c70" stroke-width="1.3" stroke-linecap="butt"/>
<line x1="351.5" y1="1615" x2="364.5" y2="1615" stroke="#e80c70" stroke-width="1.3" stroke-linecap="butt"/>
<path d="M421.3 1799V1609.5H443.8V1799" fill="#fff" stroke="#0606fa" stroke-width="2.4" stroke-linejoin="miter"/>
<path d="M451.5 1799V1624.8H474.2V1799" fill="#fff" stroke="#06f70c" stroke-width="2.4" stroke-linejoin="miter"/>
<path d="M482.3 1799V1601.5H505V1799" fill="#fff" stroke="#e80c70" stroke-width="2.4" stroke-linejoin="miter"/>
<line x1="432.3" y1="1580.4" x2="432.3" y2="1633.8" stroke="#0606fa" stroke-width="1.3" stroke-linecap="butt"/>
<line x1="426.3" y1="1580.4" x2="438.3" y2="1580.4" stroke="#0606fa" stroke-width="1.3" stroke-linecap="butt"/>
<line x1="426.3" y1="1633.8" x2="438.3" y2="1633.8" stroke="#0606fa" stroke-width="1.3" stroke-linecap="butt"/>
<line x1="463" y1="1609.2" x2="463" y2="1636.2" stroke="#06f70c" stroke-width="1.3" stroke-linecap="butt"/>
<line x1="457" y1="1609.2" x2="469" y2="1609.2" stroke="#06f70c" stroke-width="1.3" stroke-linecap="butt"/>
<line x1="457" y1="1636.2" x2="469" y2="1636.2" stroke="#06f70c" stroke-width="1.3" stroke-linecap="butt"/>
<line x1="493.4" y1="1586.1" x2="493.4" y2="1613.1" stroke="#e80c70" stroke-width="1.3" stroke-linecap="butt"/>
<line x1="487.4" y1="1586.1" x2="499.4" y2="1586.1" stroke="#e80c70" stroke-width="1.3" stroke-linecap="butt"/>
<line x1="487.4" y1="1613.1" x2="499.4" y2="1613.1" stroke="#e80c70" stroke-width="1.3" stroke-linecap="butt"/>
<polygon points="149.6,1617.99 156.4,1617.99 153,1612.01" fill="#0606fa"/>
<polygon points="167.4,1617.99 174.2,1617.99 170.8,1612.01" fill="#0606fa"/>
<polygon points="158.4,1641.79 165.2,1641.79 161.8,1635.81" fill="#0606fa"/>
<rect x="180.4" y="1588.4" width="6.8" height="6.8" fill="#06f70c"/>
<rect x="198.4" y="1588.4" width="6.8" height="6.8" fill="#06f70c"/>
<rect x="189.1" y="1611.1" width="6.8" height="6.8" fill="#06f70c"/>
<polygon points="211.1,1588.81 217.9,1588.81 214.5,1594.79" fill="#e80c70"/>
<polygon points="229.1,1588.81 235.9,1588.81 232.5,1594.79" fill="#e80c70"/>
<polygon points="219.9,1611.51 226.7,1611.51 223.3,1617.49" fill="#e80c70"/>
<polygon points="284.6,1595.49 291.4,1595.49 288,1589.51" fill="#0606fa"/>
<polygon points="302.9,1595.49 309.7,1595.49 306.3,1589.51" fill="#0606fa"/>
<polygon points="293.6,1618.49 300.4,1618.49 297,1612.51" fill="#0606fa"/>
<rect x="315.4" y="1611.6" width="6.8" height="6.8" fill="#06f70c"/>
<rect x="324.1" y="1611.6" width="6.8" height="6.8" fill="#06f70c"/>
<rect x="332.9" y="1611.6" width="6.8" height="6.8" fill="#06f70c"/>
<polygon points="354.6,1563.31 361.4,1563.31 358,1569.29" fill="#e80c70"/>
<polygon points="354.6,1588.31 361.4,1588.31 358,1594.29" fill="#e80c70"/>
<polygon points="354.6,1611.51 361.4,1611.51 358,1617.49" fill="#e80c70"/>
<polygon points="419.9,1595.59 426.7,1595.59 423.3,1589.61" fill="#0606fa"/>
<polygon points="438.1,1595.59 444.9,1595.59 441.5,1589.61" fill="#0606fa"/>
<polygon points="428.7,1641.29 435.5,1641.29 432.1,1635.31" fill="#0606fa"/>
<rect x="450.2" y="1611.5" width="6.8" height="6.8" fill="#06f70c"/>
<rect x="468.8" y="1611.5" width="6.8" height="6.8" fill="#06f70c"/>
<rect x="459.6" y="1634.4" width="6.8" height="6.8" fill="#06f70c"/>
<polygon points="480.9,1588.41 487.7,1588.41 484.3,1594.39" fill="#e80c70"/>
<polygon points="499.5,1588.41 506.3,1588.41 502.9,1594.39" fill="#e80c70"/>
<polygon points="489.8,1611.71 496.6,1611.71 493.2,1617.69" fill="#e80c70"/>
<line x1="106.2" y1="1490.47" x2="106.2" y2="1800.8" stroke="#000000" stroke-width="3.6" stroke-linecap="butt"/>
<line x1="95.5" y1="1799" x2="520.7" y2="1799" stroke="#000000" stroke-width="3.6" stroke-linecap="butt"/>
<line x1="96.2" y1="1492" x2="106.2" y2="1492" stroke="#000000" stroke-width="3.06" stroke-linecap="butt"/>
<text x="92.6" y="1498" font-family='"Liberation Serif", "Times New Roman", serif' font-size="18.5" font-weight="bold" text-anchor="end" fill="#000000" >4</text>
<line x1="96.2" y1="1568.8" x2="106.2" y2="1568.8" stroke="#000000" stroke-width="3.06" stroke-linecap="butt"/>
<text x="92.6" y="1574.8" font-family='"Liberation Serif", "Times New Roman", serif' font-size="18.5" font-weight="bold" text-anchor="end" fill="#000000" >3</text>
<line x1="96.2" y1="1645.5" x2="106.2" y2="1645.5" stroke="#000000" stroke-width="3.06" stroke-linecap="butt"/>
<text x="92.6" y="1651.5" font-family='"Liberation Serif", "Times New Roman", serif' font-size="18.5" font-weight="bold" text-anchor="end" fill="#000000" >2</text>
<line x1="96.2" y1="1722.3" x2="106.2" y2="1722.3" stroke="#000000" stroke-width="3.06" stroke-linecap="butt"/>
<text x="92.6" y="1728.3" font-family='"Liberation Serif", "Times New Roman", serif' font-size="18.5" font-weight="bold" text-anchor="end" fill="#000000" >1</text>
<line x1="96.2" y1="1799" x2="106.2" y2="1799" stroke="#000000" stroke-width="3.06" stroke-linecap="butt"/>
<text x="92.6" y="1805" font-family='"Liberation Serif", "Times New Roman", serif' font-size="18.5" font-weight="bold" text-anchor="end" fill="#000000" >0</text>
<line x1="177.5" y1="1799" x2="177.5" y2="1809" stroke="#000000" stroke-width="3.06" stroke-linecap="butt"/>
<text x="177.5" y="1828.7" font-family='"Liberation Serif", "Times New Roman", serif' font-size="18.7" font-weight="bold" text-anchor="middle" fill="#000000" >2 W</text>
<line x1="312" y1="1799" x2="312" y2="1809" stroke="#000000" stroke-width="3.06" stroke-linecap="butt"/>
<text x="312" y="1828.7" font-family='"Liberation Serif", "Times New Roman", serif' font-size="18.7" font-weight="bold" text-anchor="middle" fill="#000000" >3 W</text>
<line x1="447.1" y1="1799" x2="447.1" y2="1809" stroke="#000000" stroke-width="3.06" stroke-linecap="butt"/>
<text x="447.1" y="1828.7" font-family='"Liberation Serif", "Times New Roman", serif' font-size="18.7" font-weight="bold" text-anchor="middle" fill="#000000" >4 W</text>
<text transform="translate(70.7,1645) rotate(-90)" font-family='"Liberation Serif", "Times New Roman", serif' font-size="19.1" font-weight="bold" text-anchor="middle" fill="#000">Neutralization titer (Log<tspan dy="-9" font-size="13.8">10</tspan><tspan dy="9">)</tspan></text>
<circle cx="131.3" cy="1753.3" r="3" fill="#000000"/>
<circle cx="122.5" cy="1799" r="3" fill="#000000"/>
<circle cx="140.5" cy="1799" r="3" fill="#000000"/>
<circle cx="257.5" cy="1799" r="3" fill="#000000"/>
<circle cx="266.3" cy="1799" r="3" fill="#000000"/>
<circle cx="275.5" cy="1799" r="3" fill="#000000"/>
<circle cx="392" cy="1799" r="3" fill="#000000"/>
<circle cx="401.3" cy="1799" r="3" fill="#000000"/>
<circle cx="410.5" cy="1799" r="3" fill="#000000"/>
<path d="M736.9 1801.5V1530H749.1V1801.5" fill="#fff" stroke="#0606fa" stroke-width="2.4" stroke-linejoin="miter"/>
<path d="M754.3 1801.5V1551.9H766.5V1801.5" fill="#fff" stroke="#06f70c" stroke-width="2.4" stroke-linejoin="miter"/>
<path d="M771.8 1801.5V1519.2H784V1801.5" fill="#fff" stroke="#e80c70" stroke-width="2.4" stroke-linejoin="miter"/>
<path d="M814.2 1801.5V1530H826.4V1801.5" fill="#fff" stroke="#0606fa" stroke-width="2.4" stroke-linejoin="miter"/>
<path d="M831.6 1801.5V1530H843.8V1801.5" fill="#fff" stroke="#06f70c" stroke-width="2.4" stroke-linejoin="miter"/>
<path d="M849.1 1801.5V1507.5H861.3V1801.5" fill="#fff" stroke="#e80c70" stroke-width="2.4" stroke-linejoin="miter"/>
<path d="M891.3 1801.5V1530H903.5V1801.5" fill="#fff" stroke="#0606fa" stroke-width="2.4" stroke-linejoin="miter"/>
<path d="M908.7 1801.5V1519.2H920.9V1801.5" fill="#fff" stroke="#06f70c" stroke-width="2.4" stroke-linejoin="miter"/>
<path d="M926.2 1801.5V1540.4H938.4V1801.5" fill="#fff" stroke="#e80c70" stroke-width="2.4" stroke-linejoin="miter"/>
<path d="M968.9 1801.5V1562.7H981.1V1801.5" fill="#fff" stroke="#0606fa" stroke-width="2.4" stroke-linejoin="miter"/>
<path d="M986.3 1801.5V1562.7H998.5V1801.5" fill="#fff" stroke="#06f70c" stroke-width="2.4" stroke-linejoin="miter"/>
<path d="M1003.8 1801.5V1551.9H1016V1801.5" fill="#fff" stroke="#e80c70" stroke-width="2.4" stroke-linejoin="miter"/>
<path d="M1046.5 1801.5V1595.7H1058.7V1801.5" fill="#fff" stroke="#0606fa" stroke-width="2.4" stroke-linejoin="miter"/>
<path d="M1063.9 1801.5V1573.8H1076.1V1801.5" fill="#fff" stroke="#06f70c" stroke-width="2.4" stroke-linejoin="miter"/>
<path d="M1081.4 1801.5V1562.7H1093.6V1801.5" fill="#fff" stroke="#e80c70" stroke-width="2.4" stroke-linejoin="miter"/>
<line x1="743" y1="1509.5" x2="743" y2="1546.5" stroke="#0606fa" stroke-width="1.5" stroke-linecap="butt"/>
<line x1="739.6" y1="1546.5" x2="746.4" y2="1546.5" stroke="#0606fa" stroke-width="1.5" stroke-linecap="butt"/>
<line x1="760.4" y1="1531.5" x2="760.4" y2="1571.9" stroke="#06f70c" stroke-width="1.5" stroke-linecap="butt"/>
<line x1="757" y1="1531.5" x2="763.8" y2="1531.5" stroke="#06f70c" stroke-width="1.5" stroke-linecap="butt"/>
<line x1="777.9" y1="1498.1" x2="777.9" y2="1538.8" stroke="#e80c70" stroke-width="1.5" stroke-linecap="butt"/>
<line x1="774.5" y1="1498.1" x2="781.3" y2="1498.1" stroke="#e80c70" stroke-width="1.5" stroke-linecap="butt"/>
<line x1="820.3" y1="1509.5" x2="820.3" y2="1546.5" stroke="#0606fa" stroke-width="1.5" stroke-linecap="butt"/>
<line x1="816.9" y1="1546.5" x2="823.7" y2="1546.5" stroke="#0606fa" stroke-width="1.5" stroke-linecap="butt"/>
<line x1="837.7" y1="1506.3" x2="837.7" y2="1546.5" stroke="#06f70c" stroke-width="1.5" stroke-linecap="butt"/>
<line x1="834.3" y1="1546.5" x2="841.1" y2="1546.5" stroke="#06f70c" stroke-width="1.5" stroke-linecap="butt"/>
<line x1="897.4" y1="1509.5" x2="897.4" y2="1546.5" stroke="#0606fa" stroke-width="1.5" stroke-linecap="butt"/>
<line x1="894" y1="1546.5" x2="900.8" y2="1546.5" stroke="#0606fa" stroke-width="1.5" stroke-linecap="butt"/>
<line x1="914.8" y1="1498.1" x2="914.8" y2="1539.2" stroke="#06f70c" stroke-width="1.5" stroke-linecap="butt"/>
<line x1="911.4" y1="1498.1" x2="918.2" y2="1498.1" stroke="#06f70c" stroke-width="1.5" stroke-linecap="butt"/>
<line x1="975" y1="1542.4" x2="975" y2="1579.9" stroke="#0606fa" stroke-width="1.5" stroke-linecap="butt"/>
<line x1="971.6" y1="1579.9" x2="978.4" y2="1579.9" stroke="#0606fa" stroke-width="1.5" stroke-linecap="butt"/>
<line x1="992.4" y1="1539.2" x2="992.4" y2="1579.9" stroke="#06f70c" stroke-width="1.5" stroke-linecap="butt"/>
<line x1="989" y1="1579.9" x2="995.8" y2="1579.9" stroke="#06f70c" stroke-width="1.5" stroke-linecap="butt"/>
<line x1="1009.9" y1="1531.3" x2="1009.9" y2="1572.6" stroke="#e80c70" stroke-width="1.5" stroke-linecap="butt"/>
<line x1="1006.5" y1="1531.3" x2="1013.3" y2="1531.3" stroke="#e80c70" stroke-width="1.5" stroke-linecap="butt"/>
<line x1="1052.6" y1="1575.8" x2="1052.6" y2="1612.8" stroke="#0606fa" stroke-width="1.5" stroke-linecap="butt"/>
<line x1="1049.2" y1="1612.8" x2="1056" y2="1612.8" stroke="#0606fa" stroke-width="1.5" stroke-linecap="butt"/>
<line x1="1070" y1="1539.2" x2="1070" y2="1604.5" stroke="#06f70c" stroke-width="1.5" stroke-linecap="butt"/>
<line x1="1087.5" y1="1541.9" x2="1087.5" y2="1579.9" stroke="#e80c70" stroke-width="1.5" stroke-linecap="butt"/>
<line x1="1084.1" y1="1541.9" x2="1090.9" y2="1541.9" stroke="#e80c70" stroke-width="1.5" stroke-linecap="butt"/>
<line x1="1084.1" y1="1579.9" x2="1090.9" y2="1579.9" stroke="#e80c70" stroke-width="1.5" stroke-linecap="butt"/>
<polygon points="739.4,1509.47 746.6,1509.47 743,1503.13" fill="#0606fa"/>
<polygon points="735.7,1542.37 742.9,1542.37 739.3,1536.03" fill="#0606fa"/>
<polygon points="743.1,1542.37 750.3,1542.37 746.7,1536.03" fill="#0606fa"/>
<polygon points="816.7,1509.47 823.9,1509.47 820.3,1503.13" fill="#0606fa"/>
<polygon points="813,1542.37 820.2,1542.37 816.6,1536.03" fill="#0606fa"/>
<polygon points="820.4,1542.37 827.6,1542.37 824,1536.03" fill="#0606fa"/>
<polygon points="893.8,1509.47 901,1509.47 897.4,1503.13" fill="#0606fa"/>
<polygon points="890.1,1542.37 897.3,1542.37 893.7,1536.03" fill="#0606fa"/>
<polygon points="897.5,1542.37 904.7,1542.37 901.1,1536.03" fill="#0606fa"/>
<polygon points="971.4,1542.37 978.6,1542.37 975,1536.03" fill="#0606fa"/>
<polygon points="967.7,1575.77 974.9,1575.77 971.3,1569.43" fill="#0606fa"/>
<polygon points="975.1,1575.77 982.3,1575.77 978.7,1569.43" fill="#0606fa"/>
<polygon points="1049,1575.77 1056.2,1575.77 1052.6,1569.43" fill="#0606fa"/>
<polygon points="1045.3,1608.07 1052.5,1608.07 1048.9,1601.73" fill="#0606fa"/>
<polygon points="1052.7,1608.07 1059.9,1608.07 1056.3,1601.73" fill="#0606fa"/>
<rect x="753.9" y="1535.7" width="7" height="7" fill="#06f70c"/>
<rect x="759.9" y="1535.7" width="7" height="7" fill="#06f70c"/>
<rect x="756.9" y="1568.4" width="7" height="7" fill="#06f70c"/>
<rect x="834.2" y="1502.8" width="7" height="7" fill="#06f70c"/>
<rect x="831.2" y="1535.7" width="7" height="7" fill="#06f70c"/>
<rect x="837.2" y="1535.7" width="7" height="7" fill="#06f70c"/>
<rect x="908.1" y="1502.8" width="7" height="7" fill="#06f70c"/>
<rect x="914.5" y="1502.8" width="7" height="7" fill="#06f70c"/>
<rect x="911.3" y="1535.7" width="7" height="7" fill="#06f70c"/>
<rect x="988.9" y="1535.7" width="7" height="7" fill="#06f70c"/>
<rect x="985.9" y="1569.1" width="7" height="7" fill="#06f70c"/>
<rect x="991.9" y="1569.1" width="7" height="7" fill="#06f70c"/>
<rect x="1066.5" y="1535.7" width="7" height="7" fill="#06f70c"/>
<rect x="1066.5" y="1569.1" width="7" height="7" fill="#06f70c"/>
<rect x="1066.5" y="1601" width="7" height="7" fill="#06f70c"/>
<polygon points="770.9,1502.23 778.1,1502.23 774.5,1508.57" fill="#e80c70"/>
<polygon points="777.7,1502.23 784.9,1502.23 781.3,1508.57" fill="#e80c70"/>
<polygon points="774.3,1535.63 781.5,1535.63 777.9,1541.97" fill="#e80c70"/>
<polygon points="847.6,1503.63 854.8,1503.63 851.2,1509.97" fill="#e80c70"/>
<polygon points="851.6,1503.63 858.8,1503.63 855.2,1509.97" fill="#e80c70"/>
<polygon points="855.6,1503.63 862.8,1503.63 859.2,1509.97" fill="#e80c70"/>
<polygon points="924.7,1536.43 931.9,1536.43 928.3,1542.77" fill="#e80c70"/>
<polygon points="928.7,1536.43 935.9,1536.43 932.3,1542.77" fill="#e80c70"/>
<polygon points="932.7,1536.43 939.9,1536.43 936.3,1542.77" fill="#e80c70"/>
<polygon points="1002.7,1535.63 1009.9,1535.63 1006.3,1541.97" fill="#e80c70"/>
<polygon points="1009.9,1535.63 1017.1,1535.63 1013.5,1541.97" fill="#e80c70"/>
<polygon points="1006.3,1569.43 1013.5,1569.43 1009.9,1575.77" fill="#e80c70"/>
<polygon points="1083.9,1535.03 1091.1,1535.03 1087.5,1541.37" fill="#e80c70"/>
<polygon points="1080.2,1569.43 1087.4,1569.43 1083.8,1575.77" fill="#e80c70"/>
<polygon points="1087.6,1569.43 1094.8,1569.43 1091.2,1575.77" fill="#e80c70"/>
<rect x="1121.5" y="1499.1" width="21.4" height="8.3" fill="#fff" stroke="#000000" stroke-width="2"/>
<text x="1157.4" y="1508.4" font-family='"Liberation Serif", "Times New Roman", serif' font-size="18" font-weight="normal" text-anchor="start" fill="#000000" >Control</text>
<rect x="1121.5" y="1528.3" width="21.4" height="8.3" fill="#fff" stroke="#0606fa" stroke-width="2"/>
<text x="1157.4" y="1537.6" font-family='"Liberation Serif", "Times New Roman", serif' font-size="18" font-weight="normal" text-anchor="start" fill="#000000" >15 μg</text>
<rect x="1121.5" y="1557.5" width="21.4" height="8.3" fill="#fff" stroke="#06f70c" stroke-width="2"/>
<text x="1157.4" y="1566.8" font-family='"Liberation Serif", "Times New Roman", serif' font-size="18" font-weight="normal" text-anchor="start" fill="#000000" >30 μg</text>
<rect x="1121.5" y="1586.7" width="21.4" height="8.3" fill="#fff" stroke="#e80c70" stroke-width="2"/>
<text x="1157.4" y="1596" font-family='"Liberation Serif", "Times New Roman", serif' font-size="18" font-weight="normal" text-anchor="start" fill="#000000" >Inactivated</text>
<line x1="711" y1="1471.97" x2="711" y2="1803.3" stroke="#000000" stroke-width="3.6" stroke-linecap="butt"/>
<line x1="701.3" y1="1801.5" x2="1103.3" y2="1801.5" stroke="#000000" stroke-width="3.6" stroke-linecap="butt"/>
<line x1="701.5" y1="1473.5" x2="711" y2="1473.5" stroke="#000000" stroke-width="3.06" stroke-linecap="butt"/>
<text x="698.4" y="1479.3" font-family='"Liberation Serif", "Times New Roman", serif' font-size="17.6" font-weight="bold" text-anchor="end" fill="#000000" >3</text>
<line x1="701.5" y1="1582.8" x2="711" y2="1582.8" stroke="#000000" stroke-width="3.06" stroke-linecap="butt"/>
<text x="698.4" y="1588.6" font-family='"Liberation Serif", "Times New Roman", serif' font-size="17.6" font-weight="bold" text-anchor="end" fill="#000000" >2</text>
<line x1="701.5" y1="1692.2" x2="711" y2="1692.2" stroke="#000000" stroke-width="3.06" stroke-linecap="butt"/>
<text x="698.4" y="1698" font-family='"Liberation Serif", "Times New Roman", serif' font-size="17.6" font-weight="bold" text-anchor="end" fill="#000000" >1</text>
<line x1="701.5" y1="1801.5" x2="711" y2="1801.5" stroke="#000000" stroke-width="3.06" stroke-linecap="butt"/>
<text x="698.4" y="1807.3" font-family='"Liberation Serif", "Times New Roman", serif' font-size="17.6" font-weight="bold" text-anchor="end" fill="#000000" >0</text>
<line x1="751.3" y1="1801.5" x2="751.3" y2="1811" stroke="#000000" stroke-width="3.06" stroke-linecap="butt"/>
<text x="751.3" y="1829.3" font-family='"Liberation Serif", "Times New Roman", serif' font-size="18.7" font-weight="bold" text-anchor="middle" fill="#000000" >1 W</text>
<line x1="828.6" y1="1801.5" x2="828.6" y2="1811" stroke="#000000" stroke-width="3.06" stroke-linecap="butt"/>
<text x="828.6" y="1829.3" font-family='"Liberation Serif", "Times New Roman", serif' font-size="18.7" font-weight="bold" text-anchor="middle" fill="#000000" >2 W</text>
<line x1="906" y1="1801.5" x2="906" y2="1811" stroke="#000000" stroke-width="3.06" stroke-linecap="butt"/>
<text x="906" y="1829.3" font-family='"Liberation Serif", "Times New Roman", serif' font-size="18.7" font-weight="bold" text-anchor="middle" fill="#000000" >3 W</text>
<line x1="983.3" y1="1801.5" x2="983.3" y2="1811" stroke="#000000" stroke-width="3.06" stroke-linecap="butt"/>
<text x="983.3" y="1829.3" font-family='"Liberation Serif", "Times New Roman", serif' font-size="18.7" font-weight="bold" text-anchor="middle" fill="#000000" >8 W</text>
<line x1="1060.6" y1="1801.5" x2="1060.6" y2="1811" stroke="#000000" stroke-width="3.06" stroke-linecap="butt"/>
<text x="1060.6" y="1829.3" font-family='"Liberation Serif", "Times New Roman", serif' font-size="18.7" font-weight="bold" text-anchor="middle" fill="#000000" >13 W</text>
<text transform="translate(679.8,1636.2) rotate(-90)" font-family='"Liberation Serif", "Times New Roman", serif' font-size="18.4" font-weight="bold" text-anchor="middle" fill="#000">Neutralization titer (Log<tspan dy="-8" font-size="13.2">10</tspan><tspan dy="8">)</tspan></text>
<circle cx="721.1" cy="1801.5" r="2.4" fill="#000"/>
<circle cx="725.1" cy="1801.5" r="2.4" fill="#000"/>
<circle cx="729.1" cy="1801.5" r="2.4" fill="#000"/>
<circle cx="798.4" cy="1801.5" r="2.4" fill="#000"/>
<circle cx="802.4" cy="1801.5" r="2.4" fill="#000"/>
<circle cx="806.4" cy="1801.5" r="2.4" fill="#000"/>
<circle cx="875.5" cy="1801.5" r="2.4" fill="#000"/>
<circle cx="879.5" cy="1801.5" r="2.4" fill="#000"/>
<circle cx="883.5" cy="1801.5" r="2.4" fill="#000"/>
<circle cx="953.1" cy="1801.5" r="2.4" fill="#000"/>
<circle cx="957.1" cy="1801.5" r="2.4" fill="#000"/>
<circle cx="961.1" cy="1801.5" r="2.4" fill="#000"/>
<circle cx="1030.7" cy="1801.5" r="2.4" fill="#000"/>
<circle cx="1034.7" cy="1801.5" r="2.4" fill="#000"/>
<circle cx="1038.7" cy="1801.5" r="2.4" fill="#000"/>
</svg></body></html>
